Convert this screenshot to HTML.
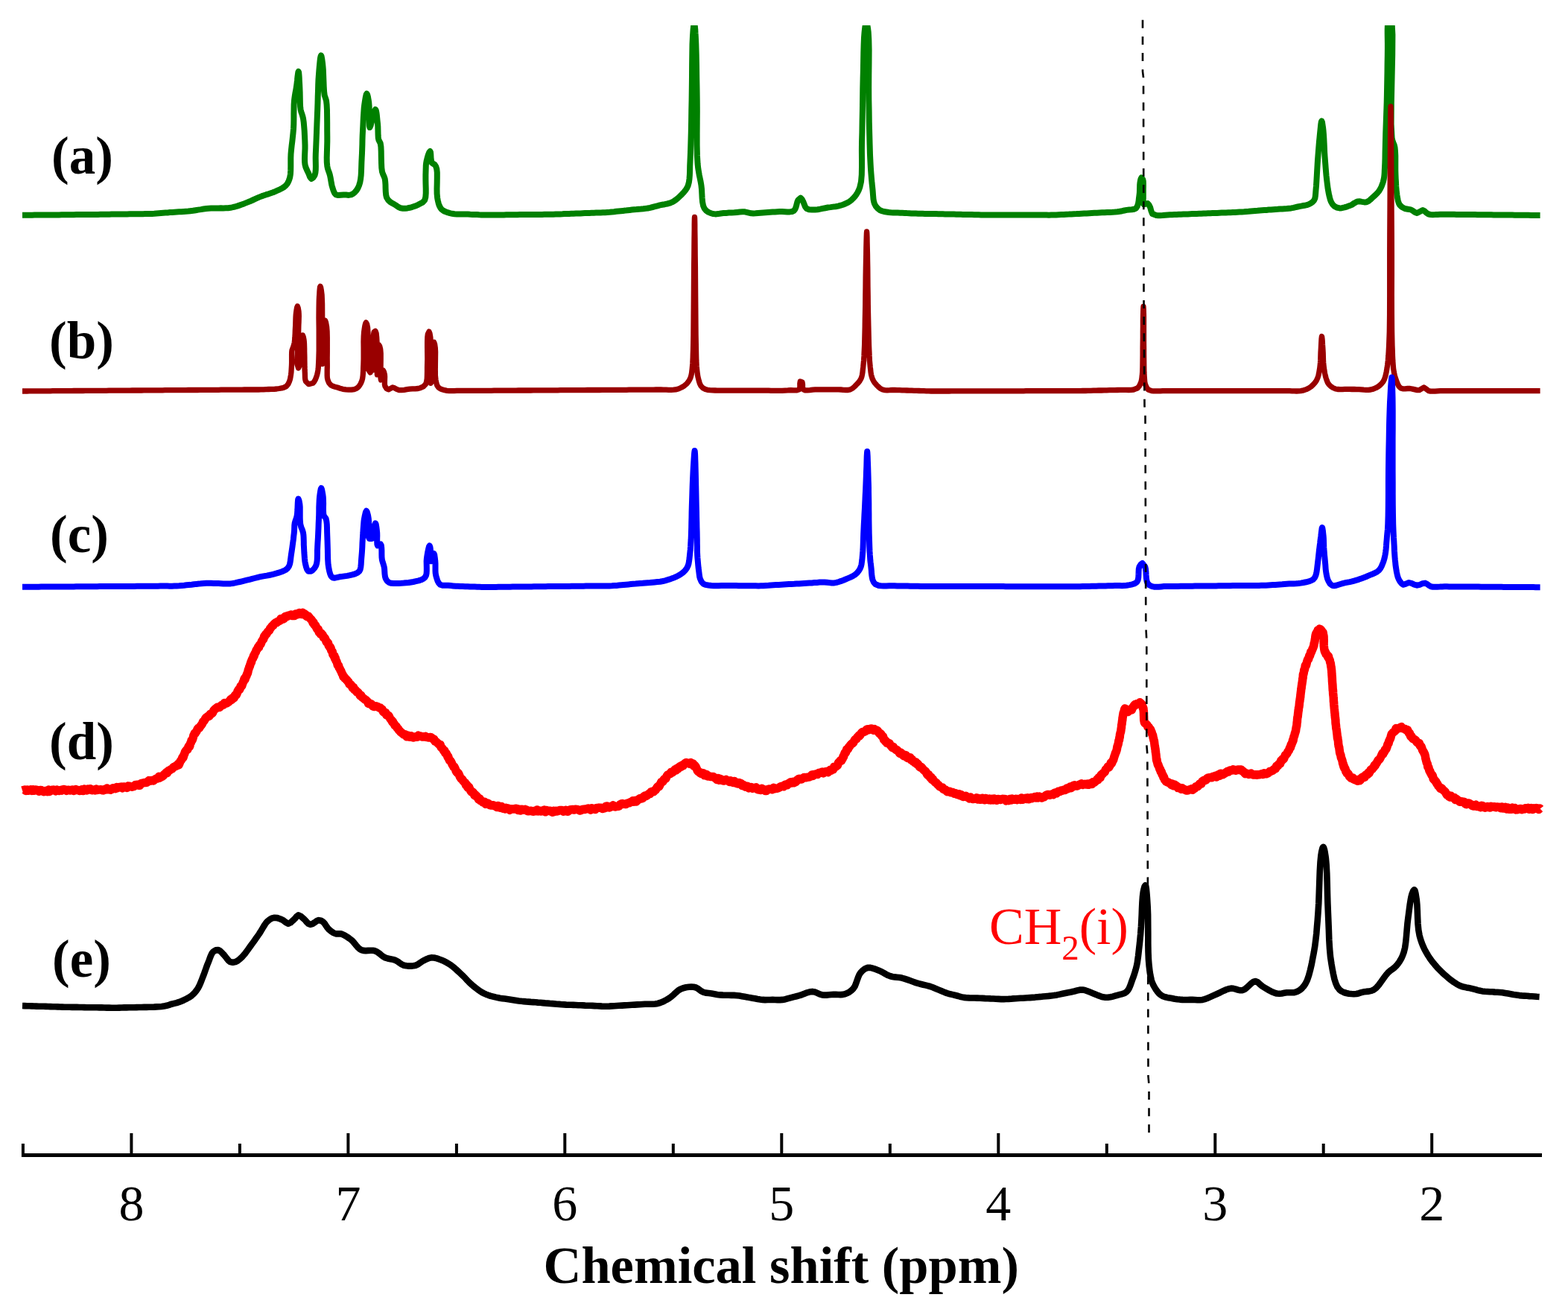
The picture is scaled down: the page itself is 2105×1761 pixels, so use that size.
<!DOCTYPE html>
<html><head><meta charset="utf-8"><title>NMR spectra</title>
<style>html,body{margin:0;padding:0;background:#fff;width:2105px;height:1761px;overflow:hidden}svg{display:block}</style>
</head><body>
<svg width="2105" height="1761" viewBox="0 0 2105 1761">
<defs><clipPath id="cp"><rect x="0" y="34" width="2105" height="1700"/></clipPath></defs>
<rect width="2105" height="1761" fill="#fff"/>
<polyline points="30.0,288.8 33.3,288.8 36.6,288.7 39.9,288.7 43.1,288.7 46.4,288.6 49.7,288.6 53.0,288.6 56.3,288.6 59.6,288.5 62.9,288.5 66.2,288.5 69.4,288.4 72.7,288.4 76.0,288.4 79.3,288.4 82.6,288.3 85.9,288.3 89.2,288.3 92.4,288.2 95.7,288.2 99.0,288.2 102.3,288.1 105.6,288.1 108.9,288.1 112.2,288.1 115.5,288.0 118.8,288.0 122.1,288.0 125.4,287.9 128.6,287.9 131.7,287.9 134.7,287.8 137.7,287.8 140.7,287.8 143.7,287.7 146.7,287.7 149.7,287.6 152.7,287.6 155.8,287.6 158.8,287.5 161.8,287.5 164.8,287.4 167.8,287.4 170.8,287.4 173.9,287.3 176.9,287.3 179.9,287.3 182.9,287.2 185.9,287.2 188.9,287.2 192.0,287.2 195.0,287.1 198.0,287.1 201.0,287.0 204.0,286.9 207.0,286.7 210.1,286.4 213.1,286.2 216.1,286.0 219.1,285.8 222.1,285.6 225.1,285.4 228.1,285.1 231.2,284.9 234.2,284.7 237.2,284.5 240.3,284.3 243.4,284.2 246.5,284.0 249.6,283.8 252.6,283.6 255.3,283.3 259.1,282.8 262.6,282.2 266.1,281.6 269.7,281.1 273.2,280.5 277.0,280.0 280.0,279.8 283.3,279.6 286.6,279.6 289.9,279.5 293.2,279.4 296.5,279.3 299.7,279.4 303.0,279.3 306.2,279.2 309.5,278.8 312.5,278.2 315.4,277.5 318.4,276.6 321.4,275.6 324.5,274.5 327.6,273.4 331.4,271.9 335.4,270.3 339.4,268.5 343.4,266.7 347.4,264.9 351.2,263.4 354.4,262.3 357.5,261.2 360.6,260.3 363.5,259.3 366.5,258.3 369.3,257.1 372.5,255.7 375.6,254.3 378.7,252.7 381.4,251.0 383.7,249.0 385.6,246.7 387.1,244.1 388.2,241.3 389.2,238.0 389.9,233.8 390.2,228.9 390.3,223.5 390.3,217.8 390.3,212.2 390.5,206.7 391.0,201.2 391.6,195.6 392.3,190.1 392.9,184.4 393.5,178.8 394.0,173.0 394.3,166.7 394.4,160.0 394.4,153.3 394.5,146.8 394.6,140.6 395.0,135.0 395.4,131.5 395.9,128.2 396.4,125.1 397.0,122.1 397.5,119.1 398.0,116.0 398.5,112.2 399.0,107.9 399.4,103.5 399.9,99.7 400.3,97.0 400.7,96.0 401.1,97.1 401.4,100.1 401.7,104.3 401.9,109.2 402.2,114.2 402.4,118.6 402.6,123.3 402.7,128.3 402.8,133.4 402.9,138.3 403.1,142.9 403.6,147.0 404.3,150.2 405.3,152.9 406.2,155.7 407.0,159.0 407.7,163.9 408.2,169.7 408.7,176.0 409.0,182.6 409.3,188.9 409.5,194.8 409.5,199.5 409.3,204.2 409.1,208.8 409.0,213.2 409.1,217.3 409.5,221.0 410.4,224.4 411.7,227.5 413.0,230.3 414.3,232.9 416.0,237.4 417.9,240.0 420.3,238.6 422.6,235.0 423.4,231.8 423.8,227.8 423.9,223.0 423.8,217.8 423.7,212.3 423.8,206.7 424.2,197.9 424.6,188.2 425.0,177.8 425.4,167.2 425.8,156.8 426.2,147.0 426.5,138.6 426.7,130.2 427.0,122.0 427.2,114.0 427.5,106.5 428.0,99.5 428.4,94.3 428.9,88.7 429.4,83.4 429.9,78.8 430.5,75.7 431.0,74.5 431.6,75.8 432.2,78.9 432.8,83.2 433.3,87.6 433.8,93.4 434.1,100.7 434.4,108.5 434.7,116.2 435.1,123.0 435.7,128.0 436.9,131.5 438.0,135.0 438.6,140.5 439.0,148.0 439.1,156.6 439.2,165.7 439.2,174.8 439.3,183.0 439.3,190.2 439.1,197.5 438.9,204.7 438.7,211.6 438.8,217.8 439.3,223.0 440.0,226.5 441.0,229.3 442.0,232.0 442.9,235.0 443.6,238.3 444.2,241.8 444.8,245.4 445.5,248.9 446.4,252.0 447.6,255.7 449.0,259.1 451.0,261.4 454.0,262.1 457.6,261.7 461.2,261.4 464.7,261.6 468.2,261.9 471.4,261.4 474.1,260.0 476.5,257.9 478.6,255.5 480.5,252.5 482.0,249.0 483.3,244.8 484.1,240.4 484.7,235.1 485.0,229.4 485.2,223.3 485.4,217.3 485.7,211.4 486.0,205.5 486.2,199.6 486.4,193.6 486.5,187.6 486.7,181.7 487.0,175.7 487.3,169.6 487.6,163.2 487.9,156.8 488.3,150.7 488.7,145.0 489.3,140.0 490.0,135.3 490.8,130.6 491.6,127.1 492.4,125.7 493.1,126.9 493.9,129.8 494.6,133.6 495.2,137.6 495.6,142.9 495.7,149.9 495.7,157.3 495.8,164.1 495.9,169.0 496.4,171.0 497.6,168.5 498.8,163.8 499.4,160.9 499.9,157.8 500.5,154.6 501.2,152.0 504.0,147.0 504.7,148.0 505.3,150.6 505.8,154.1 506.2,158.2 506.6,162.3 507.0,166.0 507.3,169.7 507.4,173.7 507.5,177.7 507.6,181.5 507.8,184.9 508.3,187.6 510.7,192.4 511.4,196.9 511.7,203.3 511.8,210.8 512.0,218.4 512.3,225.2 513.0,230.5 514.2,234.0 515.5,236.7 516.7,240.0 517.2,243.7 517.5,248.1 517.6,252.9 517.8,257.6 518.2,261.7 519.0,265.0 521.1,268.5 523.8,271.0 526.7,272.8 529.8,274.5 532.4,276.2 535.0,278.0 538.0,279.3 540.8,279.7 543.8,279.7 546.9,279.4 550.0,278.8 552.9,278.1 556.0,277.0 559.0,275.9 561.9,274.6 564.3,273.3 567.7,271.4 570.2,268.6 571.3,264.7 571.7,259.4 571.7,253.2 571.5,246.7 571.4,240.4 571.4,235.0 571.5,231.5 571.6,228.2 571.7,225.0 571.8,222.0 572.1,219.1 572.6,216.2 573.6,212.1 574.9,207.7 576.3,204.3 577.4,203.0 578.0,204.4 578.3,207.7 578.5,211.9 579.0,215.9 579.8,218.6 583.6,221.0 585.2,223.4 586.3,227.0 586.8,231.7 586.8,238.2 586.7,245.5 586.5,253.1 586.6,260.2 587.2,266.0 587.9,269.6 588.7,272.9 589.7,275.9 591.0,278.5 592.7,280.8 595.0,282.6 597.8,284.1 600.8,285.2 604.0,286.1 607.1,286.8 610.1,287.3 613.1,287.4 616.1,287.4 619.2,287.4 622.2,287.4 625.2,287.5 628.2,287.6 631.3,287.8 634.3,287.9 637.3,288.0 640.3,288.1 643.3,288.3 646.3,288.4 649.3,288.5 652.4,288.6 655.3,288.6 658.3,288.6 661.3,288.6 664.4,288.5 667.5,288.5 670.5,288.4 673.5,288.4 676.5,288.4 679.5,288.3 682.6,288.3 685.6,288.3 688.6,288.2 691.6,288.2 694.6,288.2 697.7,288.1 700.7,288.1 703.7,288.1 706.7,288.1 709.7,288.0 712.7,288.0 715.8,288.0 718.8,287.9 721.8,287.9 724.8,287.9 727.8,287.9 730.8,287.8 733.9,287.8 736.9,287.8 739.9,287.8 742.9,287.7 745.9,287.6 748.9,287.5 752.0,287.4 755.0,287.3 758.0,287.1 761.0,287.0 764.0,286.9 767.0,286.8 770.0,286.7 773.1,286.6 776.1,286.5 779.1,286.4 782.1,286.2 785.1,286.1 788.1,286.0 791.2,285.9 794.2,285.8 797.2,285.7 800.2,285.6 803.2,285.5 806.3,285.4 809.3,285.3 812.3,285.2 815.3,285.0 818.3,284.8 821.3,284.5 824.3,284.2 827.3,283.8 830.4,283.5 833.4,283.2 836.4,282.9 839.4,282.6 842.4,282.2 845.4,281.9 848.4,281.6 851.4,281.3 854.5,281.1 857.5,280.8 860.5,280.6 863.6,280.3 866.6,279.9 869.5,279.5 872.8,278.8 876.1,278.0 879.3,277.2 882.6,276.3 885.8,275.4 889.1,274.8 892.4,274.2 895.8,273.5 899.0,272.7 902.1,271.4 904.8,269.9 907.4,268.1 909.9,266.1 912.3,263.9 914.6,261.7 916.6,259.6 918.8,257.1 920.7,254.7 922.4,252.0 923.8,248.8 924.9,244.6 925.5,239.9 925.9,234.6 926.1,228.9 926.2,222.7 926.5,216.2 927.0,204.7 927.4,191.6 927.8,177.5 928.1,162.9 928.3,148.2 928.6,134.0 928.8,119.1 929.0,103.4 929.1,87.5 929.3,72.5 929.5,59.3 930.0,48.6 930.3,44.3 930.6,40.0 931.0,36.1 931.3,32.9 931.7,30.8 932.0,30.0 932.3,30.8 932.6,32.9 932.9,36.1 933.3,40.0 933.5,44.3 933.8,48.6 934.3,59.2 934.7,72.4 935.0,87.4 935.2,103.2 935.5,119.0 935.7,134.0 935.8,148.9 935.7,164.4 935.6,179.9 935.6,194.8 935.9,208.4 936.6,220.0 937.2,225.7 938.0,230.6 938.8,235.2 939.7,239.5 940.6,243.9 941.4,248.6 942.0,254.0 942.3,259.9 942.6,265.8 943.1,271.3 944.1,276.2 945.7,280.0 948.0,282.7 950.8,284.6 953.8,286.0 957.0,287.0 960.4,287.4 964.0,287.1 967.7,286.5 971.3,286.1 974.9,285.9 978.5,285.6 982.1,285.4 985.7,285.2 989.3,284.9 993.1,284.5 996.7,284.3 1000.0,284.3 1004.2,285.3 1008.6,286.3 1011.3,286.4 1014.4,286.3 1017.6,286.0 1021.0,285.7 1024.4,285.4 1027.6,285.2 1030.8,285.0 1034.0,284.8 1037.2,284.6 1040.3,284.4 1043.5,284.2 1046.7,284.0 1050.0,284.0 1053.5,284.2 1057.0,284.4 1060.3,284.4 1063.3,284.0 1065.7,282.9 1067.5,280.7 1068.7,277.5 1069.6,274.1 1070.4,270.9 1071.4,268.6 1074.9,265.7 1076.8,267.8 1078.6,271.4 1079.8,274.4 1081.0,277.6 1082.9,280.0 1086.1,281.2 1090.1,281.5 1094.3,281.4 1097.5,281.2 1100.9,280.6 1104.4,279.9 1108.0,279.2 1111.4,278.5 1114.9,278.1 1118.4,277.6 1121.9,277.2 1125.3,276.6 1128.6,275.7 1131.7,274.7 1134.7,273.5 1137.6,272.2 1140.3,270.6 1142.9,268.6 1145.2,266.4 1147.4,264.1 1149.4,261.4 1151.2,258.5 1152.9,255.1 1154.3,251.4 1156.0,243.8 1156.8,234.7 1157.0,224.5 1157.0,213.6 1156.9,202.5 1157.0,191.4 1157.4,177.8 1157.6,163.5 1157.9,148.7 1158.1,133.8 1158.3,119.4 1158.6,105.7 1158.9,94.1 1159.1,82.3 1159.3,70.7 1159.6,60.0 1160.0,50.5 1160.6,42.9 1161.1,38.4 1161.7,34.2 1162.3,31.2 1162.9,30.0 1163.6,31.1 1164.4,34.1 1165.1,38.2 1165.7,42.9 1166.3,53.3 1166.6,67.2 1166.5,83.4 1166.3,100.8 1166.2,118.0 1166.3,134.0 1166.6,148.9 1166.8,164.2 1167.2,179.5 1167.6,194.2 1168.0,207.8 1168.6,220.0 1169.0,227.0 1169.5,233.6 1170.0,239.8 1170.5,245.5 1171.1,250.9 1171.6,256.0 1171.9,260.0 1172.2,263.8 1172.5,267.3 1173.1,270.6 1174.0,273.5 1175.8,276.9 1178.2,279.7 1181.0,282.0 1183.7,283.2 1186.7,284.0 1189.9,284.5 1193.3,285.0 1196.1,285.3 1199.1,285.5 1202.1,285.6 1205.2,285.6 1208.3,285.7 1211.4,285.8 1214.4,285.9 1217.4,286.1 1220.4,286.2 1223.5,286.4 1226.5,286.5 1229.5,286.6 1232.5,286.7 1235.5,286.8 1238.5,286.8 1241.6,286.9 1244.6,286.9 1247.6,287.0 1250.6,287.0 1253.6,287.1 1256.7,287.1 1259.7,287.2 1262.7,287.3 1265.7,287.3 1268.7,287.4 1271.7,287.4 1274.8,287.5 1277.8,287.6 1280.8,287.6 1283.8,287.7 1286.8,287.7 1289.8,287.8 1292.8,287.9 1295.9,287.9 1298.9,288.0 1301.9,288.0 1304.9,288.1 1307.9,288.2 1310.9,288.2 1313.9,288.3 1317.0,288.4 1320.0,288.4 1323.1,288.4 1326.3,288.4 1329.4,288.4 1332.6,288.4 1335.7,288.4 1338.9,288.4 1342.0,288.4 1345.1,288.5 1348.3,288.5 1351.4,288.5 1354.6,288.5 1357.7,288.5 1360.9,288.5 1364.0,288.5 1367.2,288.5 1370.3,288.5 1373.4,288.5 1376.6,288.5 1379.7,288.5 1382.9,288.5 1386.0,288.5 1389.2,288.5 1392.3,288.6 1395.4,288.6 1398.6,288.6 1401.8,288.6 1404.9,288.6 1408.1,288.7 1411.2,288.6 1414.3,288.6 1417.8,288.5 1421.2,288.3 1424.6,288.1 1428.0,287.9 1431.4,287.7 1434.9,287.6 1438.3,287.4 1441.7,287.2 1445.2,287.1 1448.6,286.9 1452.0,286.7 1455.4,286.5 1458.9,286.4 1462.3,286.2 1465.7,286.0 1469.1,285.8 1472.6,285.7 1476.0,285.5 1479.4,285.3 1482.9,285.2 1486.3,285.0 1489.8,284.9 1493.3,284.8 1496.7,284.6 1500.0,284.3 1503.3,283.8 1506.4,283.2 1509.5,282.5 1512.6,281.9 1515.9,281.5 1519.4,281.3 1522.6,280.8 1525.2,279.4 1526.8,276.9 1527.9,273.6 1528.6,269.7 1529.0,265.7 1529.5,262.0 1529.9,258.5 1530.0,254.8 1530.1,251.2 1530.2,247.9 1530.5,245.0 1531.3,240.8 1532.3,238.5 1534.3,241.0 1534.8,243.3 1534.9,246.6 1534.9,250.5 1534.8,254.6 1534.8,258.6 1534.8,262.0 1534.8,265.8 1534.6,269.6 1534.7,272.7 1535.5,274.5 1540.6,273.0 1542.6,275.2 1544.2,278.5 1545.4,283.0 1547.0,287.0 1552.4,289.0 1554.8,289.2 1557.6,289.2 1560.8,289.0 1564.1,288.7 1567.4,288.5 1570.5,288.3 1573.5,288.2 1576.5,288.1 1579.6,288.0 1582.6,287.8 1585.6,287.7 1588.6,287.6 1591.6,287.5 1594.6,287.4 1597.7,287.2 1600.7,287.1 1603.7,287.0 1606.7,286.9 1609.7,286.8 1612.7,286.7 1615.8,286.5 1618.8,286.4 1621.8,286.3 1624.8,286.2 1627.8,286.1 1630.8,286.0 1633.8,285.9 1636.9,285.7 1639.9,285.6 1642.9,285.5 1645.9,285.4 1648.9,285.3 1652.0,285.2 1655.0,285.1 1658.0,285.0 1661.0,284.8 1664.0,284.6 1667.0,284.4 1670.0,284.2 1673.1,283.9 1676.1,283.7 1679.1,283.4 1682.1,283.2 1685.1,283.0 1688.1,282.8 1691.1,282.5 1694.1,282.3 1697.2,282.1 1700.2,281.9 1703.2,281.6 1706.2,281.4 1709.2,281.2 1712.2,281.0 1715.2,280.8 1718.3,280.5 1721.4,280.4 1724.5,280.2 1727.6,280.0 1730.5,279.7 1733.3,279.4 1736.4,278.9 1739.4,278.2 1742.2,277.5 1745.2,276.9 1748.2,276.3 1751.3,275.8 1754.3,275.2 1757.0,274.3 1759.8,272.8 1762.3,271.0 1764.3,268.6 1765.4,265.9 1765.9,262.7 1766.2,259.1 1766.5,255.0 1767.0,249.5 1767.4,243.0 1767.8,236.0 1768.2,228.7 1768.6,221.6 1769.0,215.0 1769.4,209.7 1769.8,204.5 1770.2,199.5 1770.6,194.5 1771.0,189.7 1771.5,185.0 1771.9,180.5 1772.4,175.6 1772.9,170.7 1773.3,166.6 1773.8,163.6 1774.3,162.5 1774.9,163.7 1775.4,166.8 1776.0,170.8 1776.5,175.0 1776.9,179.8 1777.3,185.5 1777.6,191.6 1777.9,197.9 1778.1,204.1 1778.5,210.0 1778.9,215.2 1779.3,220.4 1779.7,225.6 1780.1,230.6 1780.5,235.4 1781.0,240.0 1781.4,243.4 1781.8,246.7 1782.2,249.8 1782.6,252.9 1783.1,255.8 1783.6,258.6 1784.3,262.0 1785.1,265.3 1785.9,268.3 1787.0,271.0 1788.9,274.2 1791.3,276.7 1794.5,278.5 1798.5,279.4 1801.4,279.2 1804.9,278.4 1808.5,277.3 1811.9,276.1 1814.8,274.9 1818.4,272.4 1822.0,270.4 1825.0,270.3 1828.4,270.9 1831.7,271.4 1834.7,271.2 1837.3,269.9 1839.6,268.0 1841.9,265.8 1844.2,263.8 1846.7,261.5 1849.0,259.2 1851.0,256.8 1852.8,253.9 1854.3,251.0 1855.5,248.0 1856.8,244.2 1857.8,240.0 1858.2,237.4 1858.5,234.7 1858.7,231.8 1858.8,228.6 1859.0,225.0 1859.3,218.9 1859.5,211.9 1859.6,204.2 1859.8,196.1 1860.0,188.0 1860.2,180.0 1860.5,171.6 1860.8,163.1 1861.1,154.5 1861.4,145.8 1861.7,137.0 1861.9,128.0 1862.1,117.6 1862.3,106.8 1862.5,95.7 1862.6,84.9 1862.8,74.5 1862.9,65.0 1862.9,58.3 1862.8,51.7 1862.7,45.3 1862.7,39.4 1862.9,34.3 1863.3,30.0 1864.4,24.6 1865.7,22.0 1867.1,24.3 1868.5,30.0 1869.4,46.5 1869.2,73.5 1868.5,106.0 1867.8,138.8 1867.6,166.8 1868.6,185.0 1869.5,189.1 1870.6,192.0 1871.7,194.6 1872.5,198.0 1873.0,203.1 1873.3,209.1 1873.3,215.7 1873.3,222.4 1873.3,228.9 1873.5,235.0 1873.7,239.9 1874.0,244.7 1874.2,249.4 1874.5,253.9 1875.0,258.1 1875.5,262.0 1876.1,265.8 1876.8,269.3 1877.7,272.4 1879.0,275.0 1882.2,278.0 1886.0,280.0 1889.9,280.7 1894.0,281.4 1896.8,283.0 1899.6,285.0 1902.3,286.0 1906.2,284.0 1910.0,282.0 1912.5,283.3 1914.9,285.6 1917.9,287.5 1920.5,288.0 1923.5,288.2 1926.7,288.1 1930.0,287.9 1933.4,287.8 1936.6,287.7 1939.7,287.7 1942.9,287.8 1946.0,287.8 1949.1,287.8 1952.2,287.8 1955.3,287.9 1958.4,287.9 1961.6,287.9 1964.7,288.0 1967.8,288.0 1970.9,288.0 1974.0,288.1 1977.2,288.1 1980.3,288.1 1983.4,288.2 1986.5,288.2 1989.6,288.2 1992.8,288.2 1995.9,288.3 1999.0,288.3 2002.1,288.3 2005.2,288.4 2008.3,288.4 2011.5,288.4 2014.6,288.5 2017.7,288.5 2020.8,288.5 2023.9,288.6 2027.1,288.6 2030.2,288.6 2033.3,288.7 2036.4,288.7 2039.5,288.7 2042.6,288.8 2045.8,288.8 2048.9,288.8 2052.0,288.8 2055.1,288.9 2058.2,288.9 2061.4,288.9 2064.5,289.0 2067.6,289.0" fill="none" stroke="#008000" stroke-width="8" stroke-linejoin="round" stroke-linecap="butt" clip-path="url(#cp)"/>
<polyline points="30.0,525.0 33.1,525.0 36.3,525.0 39.4,524.9 42.5,524.9 45.7,524.9 48.8,524.9 52.0,524.9 55.1,524.8 58.2,524.8 61.4,524.8 64.5,524.8 67.6,524.8 70.8,524.7 73.9,524.7 77.1,524.7 80.2,524.7 83.3,524.6 86.5,524.6 89.6,524.6 92.7,524.6 95.9,524.6 99.0,524.5 102.2,524.5 105.3,524.5 108.4,524.5 111.6,524.5 114.7,524.4 117.8,524.4 121.0,524.4 124.1,524.4 127.3,524.4 130.4,524.3 133.5,524.3 136.7,524.3 139.8,524.3 142.9,524.3 146.1,524.2 149.2,524.2 152.4,524.2 155.5,524.2 158.6,524.2 161.8,524.1 164.9,524.1 168.0,524.1 171.2,524.1 174.3,524.1 177.5,524.0 180.6,524.0 183.7,524.0 186.9,524.0 190.0,524.0 193.1,523.9 196.3,523.9 199.4,523.9 202.5,523.9 205.7,523.8 208.8,523.8 212.0,523.8 215.1,523.8 218.2,523.8 221.4,523.7 224.5,523.7 227.6,523.7 230.8,523.7 233.9,523.7 237.1,523.6 240.2,523.6 243.3,523.6 246.5,523.6 249.6,523.6 252.7,523.5 255.9,523.5 259.0,523.5 262.2,523.5 265.3,523.5 268.4,523.4 271.6,523.4 274.7,523.4 277.8,523.4 281.0,523.4 284.1,523.3 287.3,523.3 290.4,523.3 293.5,523.3 296.7,523.2 299.8,523.2 302.9,523.2 306.1,523.2 309.2,523.2 312.4,523.1 315.5,523.1 318.6,523.1 321.8,523.1 324.9,523.1 328.0,523.0 331.2,523.0 334.4,523.0 337.6,523.0 340.9,523.0 344.1,523.0 347.2,523.0 350.0,522.9 353.8,522.8 357.2,522.6 360.7,522.5 364.2,522.4 367.8,522.3 371.4,522.0 374.8,521.5 378.3,520.9 381.6,519.9 384.3,518.6 386.8,515.6 388.5,512.0 389.4,509.2 390.0,506.2 390.5,503.0 390.9,500.0 391.1,496.8 391.3,493.5 391.5,490.0 391.6,486.7 391.6,483.1 391.6,479.3 391.6,475.7 391.7,472.5 392.0,470.0 393.5,466.0 394.4,463.3 395.2,460.0 395.5,457.4 395.8,454.2 396.0,450.7 396.2,447.1 396.3,443.5 396.5,440.0 396.7,436.6 396.8,433.0 396.9,429.5 397.0,426.1 397.2,422.9 397.5,420.0 398.0,416.1 398.7,412.5 399.3,411.0 400.2,413.4 401.0,418.0 401.2,420.9 401.3,424.3 401.2,428.0 401.1,432.0 400.9,436.0 400.8,440.0 400.7,444.8 400.5,449.9 400.2,455.1 400.0,460.3 399.8,465.3 399.6,470.0 399.4,473.6 399.2,477.1 399.0,480.5 398.9,483.7 398.8,486.6 399.0,489.0 400.5,494.0 402.5,490.0 403.1,487.0 403.4,483.0 403.7,478.5 403.9,473.7 404.2,469.0 404.5,465.0 404.8,461.3 405.2,457.3 405.6,453.7 406.0,451.0 406.4,450.0 407.2,452.0 408.0,456.0 408.3,458.5 408.5,461.4 408.6,464.7 408.7,468.1 408.7,471.6 408.8,475.0 408.9,479.1 408.9,483.4 409.0,487.9 409.0,492.2 409.1,496.3 409.3,500.0 409.4,503.5 409.5,506.8 409.8,509.6 410.5,512.0 414.3,515.7 420.0,514.3 421.7,512.3 423.3,509.6 424.6,506.3 425.7,502.9 426.4,499.9 426.9,496.8 427.3,493.5 427.5,489.8 427.7,485.9 427.9,481.4 428.2,470.5 428.2,456.9 428.2,441.8 428.0,426.9 428.1,413.4 428.3,402.9 428.5,398.6 428.8,394.4 429.0,390.5 429.3,387.3 429.6,385.1 430.0,384.3 430.7,386.0 431.4,390.2 432.1,395.7 432.6,408.1 432.7,426.9 432.6,448.1 432.4,468.0 432.5,482.8 432.9,488.6 433.4,487.2 433.9,483.8 434.5,479.1 435.0,474.3 435.3,467.3 435.5,458.1 435.6,448.2 435.7,439.2 435.9,432.6 436.4,430.0 437.5,432.7 438.6,438.6 439.1,444.8 439.3,453.0 439.3,462.3 439.3,471.9 439.2,481.0 439.3,488.6 439.3,492.8 439.2,496.9 439.2,500.6 439.2,504.1 439.4,507.3 440.0,510.0 441.7,514.1 444.3,517.0 446.8,518.3 449.8,519.2 452.9,520.0 456.5,521.2 460.3,522.3 464.3,522.9 467.9,523.1 471.8,523.1 475.5,522.6 478.6,521.4 480.9,519.6 482.8,517.3 484.4,514.5 485.7,511.4 486.6,508.3 487.1,504.8 487.4,501.1 487.6,497.1 487.7,492.9 487.9,488.6 488.1,481.9 488.1,474.4 488.1,466.4 488.0,458.6 488.2,451.5 488.6,445.7 489.2,441.4 489.9,437.2 490.7,434.1 491.4,432.9 492.6,435.1 493.6,440.0 494.0,446.9 493.9,457.0 493.6,468.5 493.4,479.9 493.5,489.5 494.3,495.7 497.1,500.0 497.8,497.4 498.2,491.2 498.4,483.3 498.4,475.4 498.4,469.4 498.6,467.0 498.8,469.2 499.1,474.8 499.3,482.0 499.5,489.2 499.8,494.8 500.0,497.0 500.2,493.5 500.3,484.8 500.3,473.2 500.6,461.1 501.1,451.2 502.1,445.7 504.0,444.3 505.1,447.2 505.7,452.9 506.1,460.0 506.2,470.2 506.2,481.6 506.2,492.1 506.2,499.9 506.4,502.9 506.6,500.0 506.9,492.6 507.1,483.0 507.5,473.4 508.0,465.9 508.6,462.9 509.7,464.7 510.7,468.6 511.2,474.2 511.2,482.6 511.1,492.0 511.0,500.9 511.0,507.4 511.4,510.0 512.0,508.0 512.7,503.5 513.5,499.1 514.3,497.0 515.4,499.0 516.4,502.9 516.6,505.7 516.5,509.1 516.4,512.7 516.4,516.0 517.0,518.6 518.9,521.5 521.4,522.9 524.0,521.6 527.0,520.0 529.7,520.8 532.5,522.4 535.7,523.6 539.0,523.7 542.6,523.3 546.3,522.7 550.0,522.2 553.7,521.9 557.5,521.8 561.1,521.5 564.3,520.7 568.3,518.9 571.4,515.7 572.5,512.6 573.2,508.6 573.4,503.9 573.5,498.9 573.5,493.7 573.6,488.6 573.8,481.9 573.7,474.2 573.6,466.4 573.6,459.0 573.8,452.8 574.3,448.6 576.0,445.0 577.0,447.5 577.9,452.9 578.2,461.1 578.1,473.5 577.8,487.4 577.5,500.5 577.6,510.3 578.3,514.3 580.7,510.0 581.3,504.0 581.2,494.5 580.8,483.6 580.4,472.9 580.4,464.5 581.1,460.0 582.6,459.3 583.6,462.0 584.3,467.0 584.6,472.5 584.5,479.9 584.4,488.2 584.3,496.6 584.4,504.2 585.0,510.0 585.8,514.1 586.8,517.4 588.6,520.0 590.8,521.6 593.6,522.8 596.8,523.7 600.0,524.3 603.1,524.6 606.4,524.7 609.8,524.6 613.3,524.4 616.7,524.3 620.0,524.3 623.3,524.3 626.7,524.3 630.0,524.3 633.3,524.3 636.6,524.3 639.9,524.3 643.2,524.3 646.6,524.3 650.0,524.3 653.2,524.3 656.5,524.3 659.8,524.3 663.1,524.2 666.5,524.2 669.8,524.2 673.1,524.2 676.4,524.2 679.7,524.1 682.9,524.1 686.2,524.1 689.5,524.1 692.8,524.1 696.1,524.0 699.4,524.0 702.7,524.0 706.0,524.0 709.3,524.0 712.6,524.0 715.9,523.9 719.2,523.9 722.5,523.9 725.8,523.9 729.1,523.9 732.4,523.9 735.7,523.8 739.0,523.8 742.3,523.8 745.6,523.8 748.8,523.8 752.1,523.7 755.4,523.7 758.7,523.7 762.0,523.7 765.3,523.7 768.6,523.7 771.9,523.6 775.2,523.6 778.5,523.6 781.8,523.6 785.1,523.6 788.4,523.5 791.7,523.5 795.0,523.5 798.3,523.5 801.6,523.5 804.9,523.5 808.2,523.4 811.4,523.4 814.7,523.4 818.0,523.4 821.3,523.4 824.6,523.3 827.9,523.3 831.2,523.3 834.5,523.3 837.8,523.3 841.1,523.3 844.4,523.2 847.7,523.2 851.0,523.2 854.3,523.2 857.6,523.2 860.9,523.2 864.2,523.1 867.5,523.1 870.8,523.1 874.1,523.1 877.3,523.1 880.6,523.0 883.9,523.0 887.2,523.0 890.6,523.1 894.2,523.2 897.7,523.3 901.1,523.3 904.2,523.2 907.0,522.9 911.3,521.7 915.0,520.0 918.7,517.8 922.0,515.0 923.9,512.6 925.6,509.9 927.0,507.0 927.8,504.3 928.4,501.5 928.8,498.4 929.2,495.0 929.5,491.5 929.8,487.8 930.0,483.9 930.2,479.6 930.3,475.0 930.5,470.0 930.7,460.4 930.9,449.5 931.0,437.5 931.1,425.0 931.2,412.3 931.3,400.0 931.4,386.5 931.5,372.2 931.6,357.8 931.8,343.9 931.9,331.1 932.0,320.0 932.1,313.8 932.2,307.3 932.2,301.3 932.3,296.2 932.4,292.8 932.5,291.5 932.6,292.8 932.7,296.2 932.8,301.3 932.8,307.3 932.9,313.8 933.0,320.0 933.1,331.1 933.2,343.9 933.4,357.8 933.5,372.2 933.6,386.5 933.7,400.0 933.8,412.3 933.9,425.0 934.0,437.5 934.1,449.5 934.3,460.4 934.5,470.0 934.6,475.0 934.7,479.6 934.8,483.8 935.0,487.7 935.2,491.5 935.5,495.0 935.9,498.6 936.3,501.9 936.8,505.0 937.5,508.0 938.4,511.6 939.5,515.1 941.0,518.0 943.6,520.7 947.0,522.5 949.8,523.3 953.0,523.6 956.5,523.8 960.0,524.0 962.8,524.1 965.8,524.2 968.8,524.1 971.9,524.1 975.0,524.1 978.0,524.1 981.0,524.1 984.0,524.1 987.0,524.1 990.0,524.1 993.0,524.1 996.0,524.1 999.0,524.1 1002.0,524.1 1005.0,524.1 1008.0,524.2 1011.0,524.2 1014.0,524.2 1017.0,524.2 1020.0,524.2 1023.0,524.2 1026.0,524.2 1029.0,524.2 1032.0,524.2 1035.0,524.3 1038.2,524.3 1041.3,524.3 1044.3,524.4 1047.2,524.4 1050.0,524.3 1054.0,524.1 1057.7,523.9 1061.5,523.6 1065.6,523.8 1069.8,523.9 1072.9,522.9 1073.9,519.4 1073.8,514.8 1074.3,512.0 1077.0,512.9 1077.5,515.8 1077.5,519.8 1078.6,522.9 1080.8,523.8 1083.8,523.9 1087.3,523.6 1090.9,523.1 1094.3,522.9 1097.4,522.9 1100.6,522.9 1103.7,522.9 1106.9,522.9 1110.0,522.9 1113.1,522.9 1116.3,522.9 1119.4,522.9 1122.6,522.9 1125.7,522.9 1128.9,523.0 1132.3,523.3 1135.5,523.5 1138.6,523.5 1141.4,522.9 1144.7,521.1 1147.5,518.6 1150.0,516.0 1152.3,513.6 1154.3,511.1 1156.0,508.0 1156.9,505.5 1157.5,502.7 1158.0,499.6 1158.3,496.4 1158.7,493.2 1159.0,490.0 1159.3,486.8 1159.6,483.8 1159.8,480.6 1160.0,477.4 1160.1,473.9 1160.3,470.0 1160.6,463.1 1160.8,455.3 1161.0,446.9 1161.2,438.1 1161.3,429.1 1161.5,420.0 1161.7,408.8 1161.8,396.8 1162.0,384.5 1162.1,372.3 1162.3,360.6 1162.5,350.0 1162.7,341.9 1162.8,333.3 1163.0,324.9 1163.2,317.8 1163.4,312.9 1163.6,311.0 1163.8,312.9 1164.0,317.8 1164.1,324.9 1164.3,333.3 1164.5,341.9 1164.6,350.0 1164.8,360.6 1164.9,372.3 1165.0,384.5 1165.2,396.8 1165.3,408.8 1165.5,420.0 1165.7,429.1 1165.9,438.1 1166.1,446.9 1166.3,455.3 1166.5,463.1 1166.8,470.0 1167.0,473.9 1167.1,477.4 1167.3,480.6 1167.4,483.8 1167.7,486.8 1168.0,490.0 1168.3,493.1 1168.7,496.3 1169.0,499.5 1169.5,502.6 1170.2,505.4 1171.0,508.0 1172.7,511.4 1174.7,514.4 1177.0,517.0 1179.4,519.4 1181.9,521.5 1185.0,523.0 1187.8,523.6 1191.0,523.8 1194.4,523.7 1197.9,523.5 1201.2,523.5 1204.5,523.6 1207.8,523.7 1211.0,523.8 1214.2,523.9 1217.5,524.0 1220.8,524.1 1224.0,524.2 1227.2,524.3 1230.5,524.4 1233.8,524.5 1237.0,524.6 1240.2,524.7 1243.4,524.8 1246.7,524.9 1250.0,525.0 1253.0,525.0 1256.0,525.0 1259.0,525.0 1262.1,525.0 1265.1,525.0 1268.2,525.0 1271.2,525.0 1274.2,525.0 1277.3,524.9 1280.3,524.9 1283.3,524.9 1286.4,524.9 1289.4,524.9 1292.4,524.9 1295.5,524.9 1298.5,524.9 1301.5,524.9 1304.5,524.9 1307.6,524.9 1310.6,524.9 1313.6,524.9 1316.7,524.9 1319.7,524.9 1322.7,524.9 1325.8,524.8 1328.8,524.8 1331.8,524.8 1334.8,524.8 1337.9,524.8 1340.9,524.8 1343.9,524.8 1347.0,524.8 1350.0,524.8 1353.0,524.8 1356.1,524.8 1359.1,524.8 1362.1,524.8 1365.2,524.8 1368.2,524.8 1371.2,524.8 1374.2,524.8 1377.3,524.7 1380.3,524.7 1383.3,524.7 1386.4,524.7 1389.4,524.7 1392.4,524.7 1395.5,524.7 1398.5,524.7 1401.5,524.7 1404.5,524.7 1407.6,524.7 1410.6,524.7 1413.6,524.7 1416.7,524.7 1419.7,524.7 1422.7,524.7 1425.8,524.6 1428.8,524.6 1431.8,524.6 1434.9,524.6 1437.9,524.6 1440.9,524.6 1443.9,524.6 1447.0,524.6 1450.0,524.6 1453.6,524.5 1457.2,524.5 1460.8,524.4 1464.3,524.3 1467.9,524.2 1471.5,524.1 1475.1,524.0 1478.7,524.0 1482.3,523.9 1485.8,523.8 1489.4,523.7 1493.0,523.6 1496.6,523.6 1500.2,523.5 1503.8,523.4 1507.5,523.4 1511.5,523.4 1515.3,523.5 1518.8,523.3 1521.7,523.0 1527.0,521.0 1529.3,518.4 1531.0,515.0 1532.0,512.2 1532.7,509.0 1533.2,505.0 1533.7,499.4 1533.9,492.3 1534.0,484.4 1534.1,476.0 1534.1,467.7 1534.2,460.0 1534.3,452.9 1534.3,445.4 1534.4,438.0 1534.4,431.1 1534.5,424.9 1534.6,420.0 1534.8,414.3 1535.0,411.5 1535.2,414.3 1535.4,420.0 1535.5,424.9 1535.5,431.1 1535.5,438.0 1535.5,445.4 1535.5,452.9 1535.5,460.0 1535.6,467.7 1535.6,475.9 1535.7,484.2 1535.8,492.2 1535.9,499.2 1536.2,505.0 1536.5,509.3 1536.8,512.8 1537.5,516.0 1539.2,520.0 1541.5,523.0 1546.0,524.6 1548.3,524.8 1551.1,524.9 1554.3,524.9 1557.7,524.8 1561.0,524.6 1564.2,524.6 1567.2,524.6 1570.3,524.6 1573.3,524.6 1576.3,524.6 1579.4,524.6 1582.4,524.6 1585.5,524.6 1588.5,524.6 1591.5,524.6 1594.6,524.6 1597.6,524.6 1600.6,524.6 1603.7,524.6 1606.7,524.6 1609.7,524.6 1612.8,524.6 1615.8,524.6 1618.8,524.6 1621.9,524.6 1624.9,524.6 1627.9,524.6 1631.0,524.6 1634.0,524.6 1637.0,524.6 1640.1,524.6 1643.1,524.6 1646.2,524.6 1649.2,524.6 1652.2,524.6 1655.3,524.6 1658.3,524.6 1661.3,524.6 1664.4,524.6 1667.4,524.6 1670.4,524.6 1673.5,524.6 1676.5,524.6 1679.5,524.6 1682.6,524.6 1685.6,524.6 1688.6,524.6 1691.7,524.6 1694.7,524.6 1697.7,524.6 1700.8,524.6 1703.8,524.6 1706.8,524.6 1709.9,524.6 1712.9,524.6 1716.0,524.6 1719.0,524.6 1722.0,524.6 1725.1,524.6 1728.1,524.6 1731.2,524.7 1734.4,524.8 1737.5,524.9 1740.6,525.0 1743.6,524.9 1746.3,524.6 1750.2,523.8 1753.7,522.6 1757.0,521.0 1760.0,519.0 1762.7,516.5 1765.0,514.0 1767.3,510.8 1769.0,507.0 1769.9,504.1 1770.6,500.9 1771.2,497.3 1771.8,493.6 1772.2,490.0 1772.5,486.8 1772.7,483.4 1772.8,480.1 1772.9,476.7 1773.0,473.3 1773.2,470.0 1773.4,466.4 1773.6,462.4 1773.8,458.4 1774.0,454.9 1774.3,452.4 1774.5,451.5 1774.7,452.4 1775.0,454.9 1775.3,458.4 1775.5,462.4 1775.8,466.4 1776.0,470.0 1776.2,473.3 1776.3,476.7 1776.4,480.1 1776.5,483.4 1776.7,486.8 1777.0,490.0 1777.4,493.6 1777.9,497.2 1778.5,500.7 1779.2,504.0 1780.0,507.0 1781.1,510.4 1782.3,513.4 1784.0,516.0 1786.5,518.5 1789.5,520.5 1793.0,522.0 1795.8,522.5 1798.9,522.7 1802.1,522.6 1805.4,522.4 1808.7,522.3 1811.8,522.4 1814.9,522.5 1818.1,522.5 1821.2,522.6 1824.3,522.7 1827.5,522.8 1830.8,523.1 1834.0,523.3 1837.1,523.3 1840.0,523.0 1843.6,522.1 1847.0,520.7 1850.0,519.0 1852.6,517.0 1855.0,514.7 1857.0,512.0 1858.4,509.3 1859.5,506.2 1860.4,502.8 1861.2,499.0 1862.0,494.5 1862.7,489.5 1863.3,484.1 1863.8,478.1 1864.2,471.5 1864.6,464.0 1865.3,445.2 1865.6,422.1 1865.7,396.2 1865.7,368.6 1865.7,340.8 1865.8,314.0 1866.0,282.2 1866.2,245.2 1866.4,207.8 1866.6,175.1 1866.8,151.8 1867.0,143.0 1867.2,151.8 1867.4,175.1 1867.7,207.8 1867.9,245.2 1868.1,282.2 1868.3,314.0 1868.4,340.8 1868.4,368.6 1868.3,396.2 1868.4,422.1 1868.6,445.2 1869.0,464.0 1869.3,471.5 1869.5,478.1 1869.8,484.1 1870.2,489.5 1870.6,494.5 1871.3,499.0 1872.0,502.8 1872.9,506.1 1873.9,509.1 1875.0,512.0 1876.4,515.5 1878.1,518.7 1880.4,521.0 1883.1,521.8 1886.3,521.8 1889.7,521.5 1893.0,521.5 1896.2,522.1 1899.5,522.9 1902.6,523.6 1905.4,523.6 1908.7,521.6 1911.6,520.0 1914.5,522.0 1917.9,524.6 1920.4,525.1 1923.3,525.2 1926.6,525.1 1930.0,524.9 1933.4,524.7 1936.6,524.6 1939.7,524.6 1942.9,524.6 1946.0,524.6 1949.1,524.6 1952.2,524.6 1955.3,524.6 1958.4,524.6 1961.6,524.6 1964.7,524.6 1967.8,524.6 1970.9,524.6 1974.0,524.6 1977.2,524.6 1980.3,524.6 1983.4,524.6 1986.5,524.6 1989.6,524.6 1992.8,524.6 1995.9,524.6 1999.0,524.6 2002.1,524.6 2005.2,524.6 2008.3,524.6 2011.5,524.6 2014.6,524.6 2017.7,524.6 2020.8,524.6 2023.9,524.6 2027.1,524.6 2030.2,524.6 2033.3,524.6 2036.4,524.6 2039.5,524.6 2042.6,524.6 2045.8,524.6 2048.9,524.6 2052.0,524.6 2055.1,524.6 2058.2,524.6 2061.4,524.6 2064.5,524.6 2067.6,524.6" fill="none" stroke="#990000" stroke-width="7.3" stroke-linejoin="round" stroke-linecap="butt"/>
<polyline points="30.0,787.8 33.1,787.8 36.3,787.8 39.4,787.7 42.6,787.7 45.7,787.7 48.8,787.7 52.0,787.7 55.1,787.6 58.3,787.6 61.4,787.6 64.5,787.6 67.7,787.6 70.8,787.5 74.0,787.5 77.1,787.5 80.2,787.5 83.4,787.5 86.5,787.4 89.6,787.4 92.8,787.4 95.9,787.4 99.1,787.4 102.2,787.3 105.3,787.3 108.5,787.3 111.6,787.3 114.8,787.3 117.9,787.2 121.0,787.2 124.2,787.2 127.3,787.2 130.5,787.2 133.6,787.1 136.7,787.1 139.9,787.1 143.0,787.1 146.2,787.1 149.3,787.1 152.4,787.0 155.6,787.0 158.7,787.0 161.9,787.0 165.0,787.0 168.1,786.9 171.3,786.9 174.4,786.9 177.6,786.9 180.7,786.9 183.8,786.8 187.0,786.8 190.1,786.8 193.2,786.8 196.4,786.8 199.5,786.7 202.7,786.7 205.8,786.7 208.9,786.7 212.1,786.7 215.2,786.6 218.4,786.6 221.5,786.6 224.6,786.6 227.8,786.7 230.9,786.7 234.0,786.6 237.2,786.5 240.5,786.3 243.8,786.0 247.1,785.7 250.4,785.3 253.8,785.0 257.1,784.7 260.4,784.3 263.8,783.9 267.2,783.6 270.5,783.2 273.8,783.0 277.0,782.8 280.4,782.7 283.6,782.8 286.8,782.9 290.0,783.0 293.2,783.1 296.5,783.2 299.7,783.4 303.0,783.5 306.2,783.6 309.5,783.4 312.5,783.0 315.6,782.4 318.8,781.7 321.9,781.0 324.8,780.3 327.6,779.6 331.4,778.7 335.0,777.8 338.5,776.9 342.0,776.0 345.6,775.1 349.4,774.2 352.2,773.6 355.1,773.1 358.2,772.6 361.3,772.0 364.4,771.3 367.4,770.6 370.8,769.7 374.4,768.6 377.8,767.5 380.8,766.3 383.3,765.0 386.1,762.8 388.0,760.0 388.9,757.5 389.6,754.5 390.1,751.1 390.5,747.5 391.0,743.8 391.7,739.4 392.4,734.5 393.1,729.3 393.8,724.2 394.3,719.4 394.8,715.2 395.1,711.5 395.2,708.1 395.3,705.0 395.7,702.0 396.6,698.8 397.7,695.9 398.6,692.4 399.1,688.6 399.4,683.8 399.6,678.7 399.8,674.1 400.1,670.8 400.5,669.5 401.5,672.0 402.4,677.0 402.7,680.6 402.7,685.1 402.7,690.1 402.7,695.1 402.9,699.8 403.3,703.8 404.4,707.9 405.9,711.3 407.0,715.2 407.4,718.1 407.6,721.1 407.7,724.3 407.8,727.6 407.8,731.0 408.0,734.3 408.2,738.1 408.4,742.1 408.7,746.2 409.0,750.1 409.4,753.8 410.0,757.0 411.0,761.0 412.2,764.5 413.8,766.7 417.6,766.7 419.9,765.1 422.4,762.4 424.3,759.0 425.2,755.8 425.7,752.1 425.9,748.0 426.0,743.5 426.0,738.9 426.2,734.3 426.5,728.4 426.9,722.0 427.2,715.4 427.5,708.8 427.7,702.3 428.0,696.2 428.2,691.1 428.3,685.9 428.3,680.9 428.5,676.1 428.7,671.6 429.0,667.6 429.5,663.6 430.1,659.5 430.7,656.4 431.3,655.2 431.9,656.5 432.6,659.6 433.3,663.6 433.8,667.6 434.0,671.5 434.1,676.1 434.0,680.9 434.0,685.5 434.2,689.5 434.8,692.4 437.6,696.2 438.3,699.3 438.8,703.6 439.0,708.5 439.1,713.9 439.3,719.5 439.5,724.8 439.7,731.1 439.9,737.9 440.0,744.9 440.2,751.6 440.6,757.7 441.4,762.9 442.2,766.8 443.2,770.4 444.5,773.3 446.2,775.2 448.9,775.7 452.1,775.1 455.7,774.3 458.9,773.9 462.5,773.4 466.2,772.9 469.7,772.2 472.9,771.4 476.6,770.3 479.8,768.9 482.4,766.7 483.7,764.1 484.3,761.0 484.7,757.3 484.9,753.5 485.2,749.5 485.6,744.9 486.0,739.8 486.3,734.5 486.5,729.2 486.8,723.9 487.1,719.0 487.4,714.9 487.6,710.8 487.9,706.8 488.2,703.0 488.5,699.4 489.0,696.2 489.9,691.6 490.9,687.5 491.9,685.7 492.9,687.5 494.0,691.5 494.8,696.2 495.1,700.4 494.9,705.6 494.7,711.2 494.6,716.4 494.8,720.5 495.7,722.9 499.5,722.9 500.3,721.0 500.7,717.9 500.8,714.1 501.0,710.5 501.4,707.6 504.0,702.3 504.7,703.7 505.3,707.1 505.8,711.3 506.2,715.2 506.3,718.9 506.2,723.2 506.2,727.4 506.4,730.7 507.1,732.4 511.0,730.5 511.8,732.1 512.2,735.2 512.4,739.3 512.4,743.8 512.5,748.0 512.9,751.4 513.8,754.8 514.8,757.8 515.7,761.0 516.1,763.9 516.3,767.2 516.5,770.5 516.9,773.6 517.6,776.2 519.5,779.6 522.4,782.0 525.1,782.8 528.4,783.1 532.0,783.0 535.7,782.9 538.7,782.8 542.0,782.6 545.3,782.3 548.6,782.0 551.8,781.5 554.8,781.0 558.5,780.2 562.1,779.4 565.4,778.3 568.0,777.0 570.4,775.1 572.0,772.4 572.6,769.6 572.8,766.0 572.8,761.9 572.7,757.6 572.6,753.3 572.9,749.5 573.5,745.4 574.3,740.8 575.2,736.6 576.0,733.6 576.7,732.4 577.5,734.6 578.1,739.2 578.6,743.8 578.8,747.7 578.8,751.5 579.1,753.3 580.0,750.6 581.3,745.6 582.4,742.9 583.2,744.7 583.8,748.8 584.3,753.3 584.5,756.2 584.5,759.4 584.5,762.8 584.5,766.2 584.7,769.4 585.2,772.4 586.2,776.0 587.4,779.6 589.0,782.6 591.0,784.8 594.1,785.8 597.8,785.8 601.5,785.8 604.9,786.1 608.3,786.4 612.0,786.7 614.8,786.8 617.9,787.0 621.1,787.1 624.5,787.2 627.8,787.2 631.0,787.4 634.2,787.5 637.3,787.6 640.5,787.7 643.7,787.8 646.8,787.9 650.0,788.0 653.2,788.0 656.3,788.0 659.5,788.0 662.7,787.9 665.9,787.9 669.0,787.8 672.2,787.8 675.4,787.7 678.6,787.7 681.7,787.7 684.9,787.7 688.1,787.6 691.3,787.6 694.4,787.6 697.6,787.5 700.8,787.5 704.0,787.5 707.1,787.4 710.3,787.4 713.5,787.4 716.7,787.3 719.8,787.3 723.0,787.3 726.2,787.2 729.4,787.2 732.5,787.2 735.7,787.1 738.9,787.1 742.0,787.1 745.2,787.1 748.4,787.0 751.6,787.0 754.7,787.0 757.9,786.9 761.1,786.9 764.3,786.9 767.4,786.8 770.6,786.8 773.8,786.8 777.0,786.7 780.1,786.7 783.3,786.7 786.5,786.6 789.7,786.6 792.8,786.6 796.0,786.6 799.2,786.5 802.4,786.5 805.5,786.5 808.7,786.5 811.9,786.5 815.1,786.5 818.2,786.4 821.4,786.3 824.6,786.1 827.8,785.9 830.9,785.6 834.1,785.3 837.3,785.0 840.5,784.7 843.6,784.4 846.8,784.1 850.0,783.8 853.2,783.6 856.4,783.3 859.5,783.0 862.8,782.8 866.1,782.5 869.4,782.2 872.6,782.0 875.7,781.7 878.6,781.4 882.5,781.0 886.1,780.7 890.0,780.0 892.9,779.3 896.0,778.4 899.2,777.4 902.3,776.3 905.3,775.2 908.0,774.0 911.6,772.2 914.7,770.2 917.5,768.0 919.9,765.5 921.9,762.8 923.5,759.7 924.5,756.5 925.1,752.9 925.6,749.1 926.0,745.0 926.4,741.3 926.8,737.4 927.1,733.3 927.3,729.0 927.6,724.6 927.8,720.0 928.0,713.9 928.2,707.6 928.3,701.0 928.5,694.1 928.6,687.1 928.8,680.0 929.1,671.2 929.4,661.7 929.7,651.9 930.1,642.4 930.5,633.6 930.9,626.0 931.2,621.4 931.5,616.7 931.8,612.3 932.1,608.5 932.4,606.0 932.6,605.0 932.8,606.0 933.0,608.5 933.2,612.3 933.3,616.7 933.5,621.5 933.6,626.0 933.8,633.6 934.0,642.4 934.2,651.9 934.4,661.7 934.6,671.2 934.8,680.0 935.0,687.1 935.1,694.1 935.3,701.0 935.4,707.6 935.6,713.9 935.7,720.0 935.8,724.5 935.8,728.9 935.9,733.0 935.9,737.1 936.0,741.1 936.2,745.0 936.4,748.5 936.7,752.0 937.0,755.5 937.3,758.8 937.6,762.0 938.0,765.0 938.4,768.3 938.8,771.5 939.2,774.4 940.0,777.0 941.6,780.7 944.0,783.5 947.1,784.9 950.9,785.5 955.0,786.0 958.1,786.2 961.4,786.3 964.8,786.2 968.2,786.1 971.6,786.1 974.9,786.1 978.2,786.1 981.6,786.1 984.9,786.1 988.2,786.1 991.5,786.2 994.8,786.2 998.2,786.2 1001.5,786.2 1004.8,786.2 1008.1,786.3 1011.4,786.3 1014.7,786.3 1018.1,786.4 1021.4,786.3 1024.8,786.2 1028.2,786.0 1031.7,785.8 1035.1,785.5 1038.5,785.3 1041.9,785.1 1045.4,784.9 1048.8,784.7 1052.2,784.5 1055.6,784.3 1059.1,784.1 1062.5,783.9 1065.9,783.8 1069.3,783.6 1072.8,783.4 1076.2,783.2 1079.6,783.0 1083.0,782.8 1086.5,782.6 1089.9,782.4 1093.3,782.1 1096.8,781.9 1100.3,781.6 1103.7,781.5 1107.0,781.4 1110.3,781.7 1113.5,782.1 1116.7,782.5 1120.0,782.4 1122.9,781.9 1126.0,781.0 1129.2,779.9 1132.4,778.7 1135.3,777.5 1138.0,776.4 1141.5,774.9 1144.7,773.4 1147.5,771.7 1150.6,769.0 1153.0,766.0 1154.7,763.2 1155.9,760.0 1156.5,757.6 1156.9,754.8 1157.3,751.8 1157.6,748.5 1157.9,745.0 1158.3,740.0 1158.6,734.5 1158.8,728.6 1159.0,722.4 1159.2,716.1 1159.5,710.0 1159.8,703.4 1160.2,696.7 1160.5,689.8 1160.9,683.0 1161.2,676.4 1161.5,670.0 1161.7,664.8 1162.0,659.8 1162.2,654.8 1162.4,650.0 1162.6,645.1 1162.8,640.0 1163.0,633.7 1163.3,626.3 1163.5,618.9 1163.7,612.4 1164.0,607.8 1164.2,606.0 1164.4,607.8 1164.7,612.4 1164.9,618.9 1165.2,626.3 1165.4,633.7 1165.6,640.0 1165.7,645.1 1165.9,650.0 1166.0,654.8 1166.0,659.7 1166.1,664.8 1166.2,670.0 1166.3,676.4 1166.3,683.0 1166.4,689.8 1166.4,696.7 1166.5,703.4 1166.6,710.0 1166.7,716.1 1166.9,722.3 1167.1,728.4 1167.3,734.3 1167.5,739.9 1167.8,745.0 1168.1,748.4 1168.3,751.5 1168.6,754.5 1169.0,757.3 1169.3,760.2 1169.6,763.0 1169.9,766.2 1170.1,769.5 1170.4,772.6 1170.8,775.5 1171.4,778.0 1172.9,781.5 1175.0,784.0 1179.8,786.0 1182.6,786.3 1186.0,786.4 1189.8,786.4 1193.7,786.3 1197.3,786.3 1200.9,786.3 1204.4,786.4 1207.9,786.4 1211.4,786.5 1214.9,786.5 1218.4,786.6 1221.9,786.7 1225.4,786.7 1228.9,786.8 1232.5,786.8 1236.0,786.9 1239.5,786.9 1243.0,787.0 1246.5,787.1 1250.0,787.1 1253.0,787.1 1256.0,787.1 1259.1,787.1 1262.1,787.1 1265.1,787.1 1268.2,787.1 1271.2,787.1 1274.2,787.1 1277.3,787.1 1280.3,787.1 1283.3,787.1 1286.4,787.1 1289.4,787.1 1292.4,787.1 1295.5,787.1 1298.5,787.1 1301.5,787.1 1304.5,787.1 1307.6,787.1 1310.6,787.1 1313.6,787.1 1316.7,787.1 1319.7,787.1 1322.7,787.1 1325.8,787.1 1328.8,787.1 1331.8,787.1 1334.8,787.1 1337.9,787.1 1340.9,787.1 1343.9,787.1 1347.0,787.1 1350.0,787.2 1353.0,787.2 1356.1,787.2 1359.1,787.2 1362.1,787.2 1365.2,787.2 1368.2,787.2 1371.2,787.2 1374.2,787.2 1377.3,787.2 1380.3,787.2 1383.3,787.2 1386.4,787.2 1389.4,787.2 1392.4,787.2 1395.5,787.2 1398.5,787.2 1401.5,787.2 1404.5,787.2 1407.6,787.2 1410.6,787.2 1413.6,787.2 1416.7,787.2 1419.7,787.2 1422.7,787.2 1425.8,787.2 1428.8,787.2 1431.8,787.2 1434.9,787.2 1437.9,787.2 1441.0,787.2 1444.0,787.2 1447.1,787.2 1450.0,787.2 1453.2,787.1 1456.3,787.1 1459.4,787.0 1462.5,786.9 1465.6,786.8 1468.7,786.8 1471.8,786.7 1475.0,786.6 1478.1,786.5 1481.2,786.5 1484.3,786.4 1487.4,786.3 1490.6,786.2 1493.7,786.2 1496.8,786.1 1499.9,786.1 1503.1,786.1 1506.2,786.2 1509.4,786.1 1512.4,785.7 1516.2,785.1 1520.1,784.3 1523.7,783.1 1526.4,781.0 1527.7,778.4 1528.3,774.9 1528.5,770.9 1528.6,766.9 1528.8,763.4 1529.5,760.7 1531.5,757.5 1533.6,756.0 1537.3,760.7 1538.0,763.6 1538.4,767.4 1538.6,771.7 1538.9,776.0 1539.5,779.8 1540.5,782.6 1543.1,785.5 1546.7,787.2 1549.2,787.7 1552.2,787.8 1555.5,787.7 1559.0,787.4 1562.5,787.1 1565.8,787.0 1569.0,787.0 1572.2,787.0 1575.4,786.9 1578.5,786.9 1581.7,786.9 1584.9,786.8 1588.1,786.8 1591.3,786.8 1594.4,786.7 1597.6,786.7 1600.8,786.7 1604.0,786.6 1607.2,786.6 1610.4,786.6 1613.5,786.5 1616.7,786.5 1619.9,786.5 1623.1,786.5 1626.3,786.4 1629.5,786.4 1632.7,786.4 1635.8,786.3 1639.0,786.3 1642.2,786.3 1645.4,786.2 1648.6,786.2 1651.8,786.2 1654.9,786.1 1658.1,786.1 1661.3,786.1 1664.5,786.0 1667.7,786.0 1670.9,786.0 1674.0,786.0 1677.2,785.9 1680.4,785.9 1683.6,785.9 1686.8,785.9 1690.1,785.9 1693.3,785.8 1696.4,785.8 1699.5,785.7 1702.7,785.5 1705.9,785.3 1708.9,785.1 1712.0,784.9 1715.1,784.7 1718.2,784.5 1721.3,784.3 1724.5,784.0 1727.6,783.8 1730.7,783.6 1733.8,783.5 1736.9,783.4 1740.1,783.3 1743.2,783.0 1746.3,782.6 1749.8,782.0 1753.4,781.3 1757.0,780.4 1760.1,779.3 1762.6,778.0 1765.0,775.3 1766.5,772.0 1767.2,769.4 1767.7,766.5 1768.1,763.4 1768.5,760.0 1768.9,756.7 1769.3,753.1 1769.8,749.3 1770.2,745.4 1770.6,741.6 1771.0,738.0 1771.4,734.9 1771.8,731.7 1772.2,728.7 1772.5,725.7 1772.9,722.8 1773.3,720.0 1773.7,716.3 1774.2,712.3 1774.6,709.3 1775.0,708.0 1775.4,709.3 1775.9,712.3 1776.3,716.3 1776.7,720.0 1776.9,722.8 1777.0,725.7 1777.1,728.8 1777.2,731.9 1777.3,735.0 1777.5,738.0 1777.8,741.4 1778.0,744.9 1778.4,748.3 1778.7,751.7 1779.0,755.0 1779.3,758.1 1779.5,761.2 1779.7,764.3 1780.1,767.2 1780.5,770.0 1781.2,773.6 1782.1,777.0 1783.4,780.0 1785.6,783.6 1788.6,786.0 1791.0,786.2 1793.9,785.7 1797.0,784.7 1800.2,783.7 1803.3,782.8 1806.2,782.2 1809.1,781.6 1812.0,781.1 1815.0,780.4 1818.0,779.6 1821.1,778.7 1824.4,777.6 1827.7,776.4 1831.0,775.2 1834.2,774.0 1837.2,772.7 1840.3,771.4 1843.3,770.2 1846.2,768.8 1848.8,767.4 1851.0,765.7 1853.1,763.1 1854.7,760.1 1856.0,757.0 1857.1,754.3 1858.0,751.4 1858.8,748.4 1859.5,745.0 1860.1,741.3 1860.6,737.2 1861.0,732.8 1861.3,728.3 1861.7,724.0 1862.0,720.0 1862.3,716.6 1862.6,713.6 1862.9,710.6 1863.1,707.2 1863.3,703.0 1863.6,692.3 1863.8,678.8 1863.9,663.3 1863.9,647.1 1864.0,630.9 1864.2,616.0 1864.4,602.7 1864.7,589.1 1864.9,575.8 1865.2,562.9 1865.6,550.8 1866.0,540.0 1866.4,532.9 1866.8,525.3 1867.2,518.2 1867.7,512.2 1868.1,508.0 1868.4,506.5 1868.7,508.1 1868.9,512.2 1869.1,518.2 1869.3,525.4 1869.5,532.9 1869.6,540.0 1869.7,550.8 1869.7,562.9 1869.7,575.8 1869.6,589.1 1869.6,602.7 1869.6,616.0 1869.6,630.7 1869.7,646.4 1869.7,662.2 1869.8,677.5 1870.0,691.3 1870.2,703.0 1870.4,708.5 1870.6,713.3 1870.8,717.8 1871.0,722.0 1871.3,726.0 1871.5,730.0 1871.7,733.2 1871.8,736.2 1871.9,739.2 1872.1,742.1 1872.3,745.0 1872.5,748.0 1872.8,751.4 1873.2,754.9 1873.5,758.4 1874.0,761.8 1874.5,765.1 1875.0,768.0 1875.8,771.7 1876.7,775.0 1878.0,778.0 1879.7,780.8 1881.7,783.4 1884.0,784.8 1887.5,783.6 1891.4,782.0 1894.9,782.9 1898.6,784.7 1902.3,785.7 1906.0,784.8 1909.7,783.2 1913.2,782.6 1915.8,783.8 1918.2,785.7 1921.0,787.2 1923.6,787.7 1926.5,787.8 1929.6,787.7 1932.9,787.6 1936.2,787.4 1939.3,787.3 1942.4,787.3 1945.4,787.4 1948.5,787.4 1951.5,787.4 1954.6,787.4 1957.7,787.5 1960.7,787.5 1963.8,787.5 1966.8,787.5 1969.9,787.5 1972.9,787.6 1976.0,787.6 1979.0,787.6 1982.1,787.6 1985.1,787.6 1988.2,787.7 1991.2,787.7 1994.3,787.7 1997.4,787.7 2000.4,787.7 2003.5,787.8 2006.5,787.8 2009.6,787.8 2012.6,787.8 2015.7,787.8 2018.7,787.9 2021.8,787.9 2024.8,787.9 2027.9,787.9 2030.9,788.0 2034.0,788.0 2037.1,788.0 2040.1,788.0 2043.2,788.0 2046.2,788.1 2049.3,788.1 2052.3,788.1 2055.4,788.1 2058.4,788.1 2061.5,788.2 2064.5,788.2 2067.6,788.2" fill="none" stroke="#0000ff" stroke-width="8" stroke-linejoin="round" stroke-linecap="butt"/>
<polyline points="30.0,1061.0 31.6,1060.5 33.2,1060.1 34.8,1061.5 36.4,1059.9 38.0,1061.2 39.6,1060.8 41.2,1059.9 42.8,1061.2 44.4,1059.9 46.0,1061.1 47.6,1060.1 49.2,1060.2 50.8,1061.2 52.4,1062.3 54.0,1060.4 55.6,1060.7 57.2,1061.8 58.8,1062.7 60.4,1061.7 62.0,1061.2 63.6,1062.8 65.2,1060.1 66.8,1062.4 68.4,1060.7 70.0,1060.3 71.6,1060.1 73.2,1060.6 74.8,1062.0 76.4,1060.2 78.0,1061.3 79.6,1061.4 81.2,1060.6 82.8,1061.1 84.4,1059.7 86.0,1059.6 87.6,1060.0 89.2,1061.3 90.8,1060.5 92.4,1060.2 94.0,1060.9 95.6,1060.5 97.2,1060.0 98.8,1061.4 100.4,1061.0 102.0,1059.7 103.6,1060.6 105.2,1060.5 106.8,1061.4 108.4,1061.0 110.0,1059.7 111.6,1061.6 113.2,1059.1 114.8,1059.9 116.4,1060.9 118.0,1059.1 119.6,1060.0 121.2,1058.7 122.8,1060.5 124.4,1060.7 126.0,1060.1 127.6,1060.9 129.2,1059.3 130.8,1060.4 132.4,1060.1 134.0,1060.0 135.6,1059.7 137.2,1060.7 138.8,1060.9 140.4,1059.5 142.0,1059.9 143.6,1058.1 145.2,1059.7 146.7,1059.4 148.3,1060.2 149.9,1059.5 151.5,1057.8 153.1,1057.9 154.7,1058.6 156.3,1056.6 157.9,1057.7 159.5,1056.7 161.1,1056.4 162.7,1056.1 164.3,1057.9 165.8,1056.0 167.4,1056.1 169.0,1056.3 170.6,1057.4 172.2,1054.9 173.7,1055.7 175.3,1055.6 176.9,1056.2 178.4,1055.7 180.0,1055.5 181.6,1053.5 183.1,1053.6 184.7,1053.2 186.3,1054.3 187.8,1054.2 189.4,1051.6 190.9,1051.2 192.5,1050.9 194.0,1050.4 195.5,1050.6 197.0,1050.4 198.5,1048.9 200.0,1047.6 201.5,1048.2 203.0,1047.5 204.5,1047.5 206.0,1047.9 207.5,1046.6 208.9,1045.5 210.4,1045.2 211.9,1044.7 213.3,1042.3 214.8,1043.9 216.2,1042.9 217.6,1042.4 219.0,1041.4 220.4,1039.4 221.7,1038.6 223.1,1036.9 224.4,1037.5 225.7,1035.0 227.0,1034.1 228.3,1033.6 229.7,1032.5 231.0,1032.1 232.3,1030.4 233.6,1029.4 235.0,1028.9 236.3,1027.9 237.6,1027.7 238.8,1025.6 239.9,1026.9 240.9,1024.9 241.8,1022.3 242.6,1021.2 243.4,1020.1 244.2,1018.7 244.9,1016.6 245.6,1017.2 246.2,1016.2 246.9,1013.2 247.7,1011.9 248.4,1009.4 249.2,1008.0 250.1,1007.3 251.0,1005.8 251.9,1006.0 252.8,1002.8 253.6,1001.1 254.4,1002.3 255.2,999.7 255.8,997.2 256.4,996.8 257.0,993.9 257.6,993.8 258.1,993.5 258.7,991.7 259.3,989.8 259.9,987.1 260.6,986.0 261.4,984.0 262.2,984.3 263.1,982.3 263.9,981.6 264.9,979.1 265.8,977.5 266.7,977.8 267.7,977.0 268.6,975.4 269.6,974.0 270.6,972.8 271.6,971.3 272.6,968.6 273.6,968.2 274.7,966.5 275.7,964.4 276.8,963.2 277.8,962.7 278.9,961.4 280.0,961.5 281.1,961.1 282.2,958.5 283.3,958.7 284.5,957.7 285.6,956.6 286.8,953.8 288.0,952.4 289.3,951.4 290.5,950.3 291.8,949.3 293.1,949.6 294.4,949.5 295.8,948.5 297.2,946.7 298.6,946.4 300.0,946.1 301.4,943.4 302.8,944.2 304.3,944.1 305.7,943.0 307.0,942.1 308.4,940.5 309.7,938.7 310.9,939.4 312.1,937.1 313.2,937.3 314.3,936.6 315.3,933.7 316.3,932.5 317.3,932.7 318.2,930.7 319.0,927.8 319.9,926.4 320.7,925.1 321.5,925.8 322.3,924.2 323.1,920.9 324.0,921.5 324.7,920.5 325.5,918.2 326.2,915.9 326.9,915.0 327.6,912.4 328.3,910.6 329.0,911.9 329.7,909.5 330.3,907.7 330.9,907.4 331.6,904.5 332.2,904.2 332.7,902.6 333.3,899.4 333.8,898.0 334.3,896.6 334.8,894.9 335.3,894.4 335.9,892.0 336.4,890.9 336.9,888.6 337.4,889.2 338.0,886.2 338.5,885.0 339.1,883.8 339.7,883.3 340.4,880.4 341.1,880.4 341.8,877.8 342.6,876.5 343.4,875.1 344.2,872.3 345.0,872.1 345.9,870.0 346.7,868.2 347.5,869.0 348.3,865.9 349.2,865.3 349.9,864.6 350.7,862.8 351.4,860.7 352.2,859.8 352.9,858.5 353.7,857.8 354.5,854.5 355.3,854.4 356.1,852.1 357.0,850.9 357.9,850.9 358.8,848.9 359.7,847.7 360.7,847.0 361.6,846.1 362.6,843.5 363.6,842.8 364.6,841.2 365.7,840.0 366.8,839.4 367.9,837.6 369.1,836.7 370.3,835.5 371.5,835.8 372.8,834.2 374.2,833.8 375.6,833.2 377.0,830.6 378.4,830.7 379.9,831.1 381.4,830.2 382.8,827.6 384.3,827.0 385.8,827.4 387.4,825.9 388.9,825.9 390.5,825.1 392.0,826.4 393.6,826.5 395.2,826.5 396.7,824.0 398.3,825.1 399.8,824.5 401.3,822.6 402.9,824.2 404.5,824.4 406.0,822.3 407.6,824.8 409.0,823.9 410.4,825.0 411.7,827.3 412.9,827.9 414.1,827.1 415.3,828.9 416.4,830.3 417.3,831.1 418.3,832.0 419.2,833.6 420.1,836.1 421.0,835.5 421.8,838.3 422.7,839.4 423.6,839.5 424.5,841.7 425.4,843.8 426.3,844.8 427.3,844.8 428.3,848.7 429.3,849.4 430.3,851.1 431.3,850.0 432.3,851.7 433.3,852.3 434.3,855.6 435.2,855.5 436.2,856.4 437.1,858.5 438.0,861.2 438.8,862.3 439.7,862.1 440.5,863.2 441.2,866.7 442.0,867.2 442.7,868.9 443.4,868.7 444.1,870.0 444.8,873.2 445.5,873.9 446.2,874.4 446.8,878.3 447.5,878.9 448.2,880.8 448.9,880.2 449.5,883.9 450.2,883.1 450.9,886.8 451.5,887.1 452.1,888.3 452.7,890.3 453.3,892.9 454.0,892.5 454.6,893.6 455.2,896.2 455.8,896.8 456.4,898.0 457.1,899.6 457.8,900.7 458.5,902.5 459.3,904.3 460.1,905.6 460.9,908.3 461.8,908.3 462.7,910.2 463.7,910.5 464.7,912.3 465.7,912.6 466.7,914.4 467.8,915.0 468.9,918.1 470.0,918.8 471.1,919.0 472.2,920.9 473.3,923.4 474.4,922.2 475.5,925.4 476.6,925.4 477.7,926.7 478.9,928.8 480.0,928.7 481.2,930.1 482.3,931.7 483.5,933.7 484.6,933.0 485.7,935.5 486.8,936.3 487.9,937.3 488.9,937.9 490.0,938.9 491.1,939.3 492.2,940.6 493.4,941.6 494.6,944.4 495.9,944.0 497.3,944.5 498.7,945.1 500.2,947.7 501.7,948.4 503.2,948.4 504.8,947.8 506.3,948.2 507.8,948.9 509.2,950.1 510.6,950.0 511.9,951.7 513.2,952.2 514.4,955.2 515.6,956.3 516.7,956.3 517.8,956.6 518.9,959.8 519.9,959.1 521.0,960.5 522.0,960.7 523.0,963.0 523.9,964.6 524.8,966.0 525.7,966.5 526.6,968.7 527.4,968.6 528.3,970.7 529.2,971.5 530.1,973.7 531.1,974.0 532.2,975.1 533.2,977.1 534.4,978.0 535.5,980.1 536.7,981.0 537.9,982.7 539.2,983.4 540.4,984.6 541.8,985.9 543.1,985.5 544.5,986.1 545.8,988.7 547.3,987.0 548.8,989.1 550.4,989.2 552.0,987.7 553.6,989.8 555.2,989.9 556.8,989.0 558.4,989.2 560.0,989.3 561.6,987.3 563.2,988.3 564.8,988.1 566.4,988.9 568.0,988.8 569.6,988.9 571.1,988.4 572.7,989.6 574.2,989.5 575.7,990.1 577.2,989.4 578.6,989.6 580.0,990.6 581.4,992.1 582.7,992.2 584.1,995.2 585.3,995.4 586.6,996.6 587.8,997.6 588.9,998.9 590.0,999.6 591.1,999.4 592.0,1002.9 593.0,1004.0 594.0,1004.6 594.9,1006.0 595.8,1007.7 596.7,1007.3 597.6,1010.6 598.4,1010.6 599.3,1011.4 600.1,1013.3 601.0,1016.0 601.8,1015.9 602.6,1018.7 603.5,1020.7 604.3,1020.7 605.2,1021.8 606.0,1023.4 606.8,1025.4 607.6,1027.0 608.4,1028.0 609.1,1029.5 609.9,1029.3 610.7,1030.9 611.5,1032.6 612.3,1035.3 613.1,1035.5 614.0,1037.6 614.9,1037.3 615.8,1038.8 616.7,1040.7 617.6,1043.1 618.6,1044.4 619.5,1045.7 620.5,1045.9 621.5,1047.8 622.5,1048.9 623.5,1050.1 624.5,1050.4 625.5,1053.8 626.5,1053.1 627.5,1056.5 628.5,1057.6 629.6,1056.3 630.6,1058.8 631.6,1061.0 632.6,1062.6 633.7,1062.4 634.7,1063.1 635.8,1064.2 636.8,1067.4 637.9,1066.5 639.1,1068.7 640.2,1068.6 641.4,1070.7 642.6,1073.0 643.8,1071.7 645.1,1074.6 646.4,1074.7 647.7,1076.6 649.1,1077.0 650.4,1076.5 651.8,1079.1 653.2,1078.7 654.7,1078.1 656.1,1078.7 657.6,1080.6 659.2,1081.0 660.7,1081.0 662.3,1080.8 663.9,1081.7 665.4,1081.8 667.0,1083.5 668.6,1081.4 670.2,1083.8 671.8,1084.3 673.3,1082.6 674.9,1085.2 676.5,1084.9 678.0,1085.8 679.6,1084.4 681.2,1084.9 682.7,1085.2 684.3,1087.2 685.9,1086.3 687.5,1085.8 689.1,1086.1 690.7,1085.8 692.3,1085.3 693.9,1085.5 695.5,1087.6 697.1,1086.2 698.7,1088.1 700.3,1086.3 701.9,1086.4 703.5,1087.2 705.1,1086.4 706.7,1087.1 708.3,1088.8 709.8,1088.7 711.4,1088.6 713.0,1088.2 714.6,1089.1 716.2,1089.2 717.8,1088.2 719.4,1088.7 721.0,1086.9 722.6,1088.9 724.2,1088.1 725.8,1089.0 727.4,1088.8 729.0,1087.8 730.6,1087.2 732.2,1089.8 733.8,1087.6 735.4,1088.6 737.0,1088.3 738.6,1088.3 740.2,1089.5 741.8,1090.2 743.4,1088.2 745.0,1089.3 746.6,1088.2 748.2,1088.9 749.8,1088.3 751.4,1087.6 753.0,1087.5 754.6,1087.5 756.2,1089.3 757.8,1088.1 759.4,1087.3 761.0,1089.1 762.6,1089.3 764.2,1087.7 765.8,1086.7 767.4,1086.8 769.0,1086.4 770.6,1087.0 772.2,1086.2 773.8,1086.5 775.4,1086.5 777.0,1087.2 778.6,1088.0 780.2,1087.5 781.8,1086.4 783.3,1086.3 784.9,1086.5 786.5,1085.9 788.1,1085.7 789.7,1084.9 791.3,1085.4 792.9,1087.2 794.5,1084.7 796.1,1085.7 797.7,1085.9 799.3,1086.4 800.9,1084.4 802.5,1084.4 804.1,1084.1 805.7,1084.3 807.2,1084.2 808.8,1085.4 810.4,1084.9 812.0,1084.7 813.6,1082.1 815.2,1081.9 816.8,1083.6 818.3,1084.0 819.9,1082.6 821.5,1082.7 823.1,1080.9 824.7,1081.8 826.3,1083.0 827.8,1082.4 829.4,1082.2 831.0,1082.2 832.5,1079.8 834.1,1078.9 835.6,1078.6 837.1,1079.2 838.7,1079.2 840.2,1079.5 841.7,1078.4 843.3,1077.8 844.8,1077.8 846.4,1076.5 848.0,1076.4 849.5,1074.7 851.1,1076.3 852.6,1074.4 854.2,1075.8 855.7,1074.5 857.2,1073.0 858.6,1071.9 860.1,1071.5 861.5,1071.9 862.9,1071.4 864.3,1069.0 865.7,1068.1 867.1,1068.6 868.5,1067.9 869.9,1066.5 871.2,1065.2 872.6,1065.4 873.9,1062.8 875.2,1062.7 876.5,1062.2 877.7,1062.6 879.0,1060.8 880.2,1060.4 881.4,1058.1 882.5,1056.3 883.6,1055.2 884.6,1056.0 885.7,1054.1 886.7,1051.7 887.7,1049.7 888.8,1049.8 889.8,1049.1 890.8,1047.1 891.9,1045.5 892.9,1045.4 894.0,1045.0 895.1,1041.8 896.2,1040.2 897.3,1039.8 898.5,1039.0 899.7,1038.7 901.0,1036.3 902.3,1037.1 903.6,1036.0 904.9,1034.4 906.2,1032.7 907.6,1034.0 909.0,1031.3 910.3,1031.9 911.7,1029.4 913.1,1028.6 914.4,1029.2 915.7,1027.0 917.0,1027.9 918.4,1025.8 919.8,1024.2 921.2,1023.6 922.8,1024.0 924.4,1024.6 926.0,1025.4 927.5,1023.7 929.1,1024.8 930.4,1025.0 931.6,1028.3 932.6,1027.2 933.5,1028.3 934.3,1029.6 935.3,1031.8 936.3,1034.5 937.4,1035.6 938.7,1036.1 940.0,1037.8 941.4,1038.4 942.8,1037.5 944.2,1037.9 945.6,1040.7 947.1,1040.8 948.5,1039.5 950.0,1041.9 951.5,1041.6 953.0,1042.2 954.5,1042.6 956.1,1042.6 957.6,1042.6 959.1,1043.8 960.7,1044.4 962.2,1046.5 963.8,1044.5 965.3,1047.2 966.9,1045.4 968.5,1046.2 970.1,1047.7 971.6,1048.0 973.2,1047.2 974.8,1046.4 976.4,1047.9 977.9,1047.8 979.5,1049.6 981.1,1047.9 982.7,1048.6 984.2,1050.5 985.8,1048.4 987.3,1049.9 988.8,1051.5 990.4,1051.9 991.9,1050.5 993.4,1051.0 994.9,1051.6 996.4,1054.6 997.8,1053.3 999.3,1055.2 1000.8,1056.2 1002.4,1055.2 1003.9,1055.5 1005.4,1057.9 1006.9,1057.4 1008.5,1056.7 1010.1,1058.3 1011.7,1057.4 1013.2,1057.5 1014.8,1056.9 1016.4,1059.2 1018.0,1059.9 1019.6,1059.4 1021.2,1060.6 1022.7,1058.3 1024.3,1059.2 1025.9,1060.0 1027.5,1061.5 1029.1,1061.5 1030.7,1059.7 1032.2,1059.1 1033.8,1059.2 1035.3,1059.0 1036.9,1059.8 1038.4,1057.3 1040.0,1058.7 1041.6,1058.2 1043.1,1058.2 1044.7,1057.7 1046.3,1057.0 1047.8,1055.8 1049.4,1055.4 1050.9,1055.0 1052.4,1055.7 1053.9,1053.1 1055.4,1052.9 1056.9,1053.8 1058.4,1051.8 1059.8,1050.7 1061.3,1049.9 1062.8,1050.8 1064.3,1049.5 1065.7,1050.7 1067.2,1049.8 1068.7,1049.5 1070.2,1046.9 1071.7,1045.8 1073.2,1045.3 1074.7,1045.9 1076.2,1046.0 1077.7,1044.7 1079.2,1043.6 1080.7,1043.6 1082.3,1043.7 1083.8,1043.3 1085.3,1043.1 1086.8,1042.8 1088.4,1041.9 1089.9,1039.9 1091.4,1041.4 1092.9,1039.4 1094.5,1039.7 1096.0,1038.8 1097.6,1039.4 1099.1,1037.5 1100.7,1037.2 1102.2,1036.8 1103.8,1036.1 1105.3,1037.9 1106.9,1036.7 1108.5,1035.7 1110.0,1035.5 1111.6,1036.7 1113.1,1034.8 1114.5,1033.4 1115.9,1034.2 1117.2,1032.9 1118.5,1032.8 1119.7,1029.3 1120.9,1029.3 1122.1,1029.2 1123.3,1028.2 1124.4,1027.3 1125.5,1023.6 1126.6,1023.2 1127.6,1021.5 1128.7,1020.4 1129.5,1021.3 1130.4,1018.9 1131.2,1018.4 1131.9,1015.5 1132.6,1015.4 1133.3,1012.8 1134.0,1010.8 1134.8,1010.9 1135.6,1010.0 1136.5,1006.3 1137.5,1006.4 1138.5,1005.2 1139.5,1002.8 1140.5,1002.0 1141.5,1000.2 1142.6,999.1 1143.6,998.1 1144.7,997.8 1145.7,996.8 1146.8,994.3 1147.8,992.6 1148.9,992.2 1149.9,992.0 1150.9,989.4 1152.0,988.6 1153.1,987.1 1154.2,987.6 1155.4,985.8 1156.6,983.5 1157.9,982.6 1159.2,982.5 1160.6,982.1 1161.9,981.5 1163.3,979.2 1164.8,978.7 1166.3,979.7 1167.9,978.5 1169.4,978.0 1171.0,978.2 1172.6,980.2 1174.1,978.8 1175.7,980.0 1177.1,980.2 1178.5,981.1 1179.7,983.4 1180.9,984.9 1181.8,984.4 1182.8,985.2 1183.7,988.0 1184.6,987.8 1185.5,988.6 1186.4,992.5 1187.3,992.4 1188.3,994.8 1189.4,994.8 1190.6,997.2 1191.7,997.1 1193.0,997.3 1194.2,997.9 1195.4,1000.4 1196.7,1001.7 1197.9,1003.5 1199.1,1002.2 1200.3,1004.7 1201.6,1005.0 1202.8,1006.4 1204.1,1006.4 1205.4,1007.8 1206.6,1009.4 1207.9,1011.4 1209.3,1010.0 1210.7,1011.9 1212.0,1013.6 1213.5,1014.8 1214.9,1013.3 1216.3,1013.9 1217.8,1016.9 1219.2,1017.7 1220.6,1017.1 1221.9,1016.7 1223.3,1020.1 1224.6,1019.5 1225.8,1021.9 1227.1,1022.1 1228.3,1023.7 1229.6,1022.9 1230.8,1025.7 1232.0,1025.1 1233.1,1026.7 1234.3,1029.1 1235.5,1030.1 1236.6,1029.4 1237.8,1030.6 1238.9,1032.2 1240.1,1033.7 1241.2,1034.5 1242.3,1034.9 1243.3,1036.4 1244.4,1039.0 1245.5,1040.6 1246.6,1039.4 1247.7,1042.0 1248.8,1043.8 1249.9,1042.9 1251.0,1046.3 1252.1,1045.4 1253.3,1047.8 1254.4,1048.8 1255.6,1050.2 1256.7,1050.4 1257.8,1051.8 1259.0,1053.4 1260.2,1054.0 1261.4,1055.7 1262.6,1056.2 1263.9,1057.1 1265.2,1056.9 1266.5,1059.4 1267.9,1059.9 1269.3,1059.9 1270.8,1062.1 1272.2,1062.8 1273.7,1062.5 1275.2,1062.3 1276.7,1063.7 1278.2,1063.2 1279.7,1063.8 1281.2,1065.2 1282.7,1064.7 1284.3,1066.1 1285.8,1066.7 1287.4,1065.7 1288.9,1067.8 1290.5,1066.6 1292.0,1068.9 1293.6,1069.4 1295.1,1069.1 1296.6,1068.3 1298.2,1070.0 1299.7,1070.0 1301.3,1071.9 1302.9,1069.9 1304.5,1072.1 1306.1,1072.6 1307.7,1072.0 1309.3,1072.3 1310.9,1070.7 1312.5,1073.0 1314.0,1071.8 1315.6,1073.3 1317.2,1073.3 1318.8,1071.3 1320.4,1073.2 1322.0,1073.7 1323.6,1071.4 1325.2,1072.3 1326.8,1073.5 1328.4,1071.9 1330.0,1074.0 1331.6,1072.3 1333.2,1073.9 1334.8,1072.0 1336.4,1073.1 1338.0,1074.3 1339.6,1072.4 1341.2,1072.6 1342.8,1073.4 1344.4,1072.9 1346.0,1072.2 1347.6,1072.7 1349.2,1072.6 1350.8,1074.8 1352.4,1074.1 1354.0,1074.6 1355.6,1072.5 1357.2,1074.1 1358.8,1072.1 1360.4,1073.1 1362.0,1073.2 1363.6,1072.3 1365.2,1073.6 1366.7,1072.6 1368.3,1072.5 1369.9,1073.3 1371.5,1071.0 1373.1,1073.3 1374.7,1072.2 1376.3,1071.4 1377.9,1072.4 1379.5,1070.8 1381.1,1072.7 1382.7,1071.4 1384.3,1070.6 1385.9,1071.6 1387.5,1070.5 1389.1,1069.6 1390.7,1071.0 1392.3,1069.0 1393.8,1071.0 1395.4,1069.3 1397.0,1070.3 1398.6,1071.0 1400.2,1069.7 1401.8,1069.7 1403.3,1068.3 1404.9,1067.0 1406.4,1066.6 1407.9,1066.5 1409.5,1067.3 1411.0,1066.3 1412.5,1066.0 1414.1,1066.7 1415.6,1064.1 1417.1,1063.9 1418.7,1064.7 1420.2,1062.4 1421.7,1061.9 1423.2,1062.4 1424.7,1061.1 1426.2,1061.2 1427.7,1060.2 1429.2,1060.6 1430.6,1060.0 1432.1,1058.2 1433.6,1058.8 1435.0,1057.7 1436.5,1056.1 1438.0,1057.8 1439.5,1055.2 1441.0,1054.4 1442.5,1053.8 1444.0,1054.8 1445.6,1055.1 1447.1,1054.5 1448.7,1053.2 1450.3,1052.7 1451.9,1051.8 1453.5,1053.4 1455.1,1053.0 1456.7,1052.2 1458.3,1052.9 1459.8,1052.1 1461.4,1053.3 1463.0,1052.5 1464.6,1050.9 1466.1,1052.4 1467.6,1049.4 1469.1,1050.2 1470.5,1049.1 1471.8,1047.6 1472.9,1046.0 1474.0,1046.8 1475.1,1043.5 1476.1,1043.8 1477.2,1043.7 1478.2,1040.2 1479.2,1039.1 1480.2,1039.0 1481.2,1037.5 1482.3,1036.7 1483.3,1035.9 1484.3,1032.9 1485.4,1032.1 1486.4,1030.9 1487.4,1028.9 1488.5,1030.1 1489.5,1028.5 1490.4,1027.0 1491.3,1023.7 1492.3,1024.8 1493.1,1023.1 1493.9,1020.9 1494.6,1020.3 1495.2,1018.0 1495.8,1015.9 1496.4,1014.1 1496.9,1012.9 1497.4,1010.8 1497.8,1010.1 1498.2,1009.7 1498.7,1008.0 1499.1,1006.9 1499.5,1005.0 1499.9,1002.2 1500.3,1001.5 1500.7,999.6 1501.1,999.0 1501.5,996.7 1501.8,994.4 1502.2,993.9 1502.5,993.3 1502.9,989.6 1503.2,989.9 1503.5,985.9 1503.8,985.0 1504.1,983.4 1504.4,983.2 1504.6,982.2 1504.9,980.1 1505.2,977.3 1505.4,977.3 1505.6,974.2 1505.8,972.3 1506.0,972.6 1506.2,970.3 1506.4,968.8 1506.6,967.2 1506.8,966.5 1507.0,963.5 1507.2,962.9 1507.5,960.9 1507.7,959.8 1508.1,957.1 1508.5,956.3 1509.1,954.4 1509.6,952.1 1510.3,950.9 1511.6,952.9 1512.9,952.3 1514.3,955.5 1515.6,953.8 1517.0,952.6 1518.2,951.8 1519.3,952.9 1520.4,950.1 1521.5,948.4 1522.5,946.9 1523.6,945.7 1524.6,946.3 1525.8,945.1 1527.1,944.4 1528.7,944.5 1530.3,942.7 1531.9,944.3 1532.8,945.0 1533.6,947.6 1534.1,949.1 1534.5,950.9 1534.9,950.1 1535.2,953.9 1535.4,955.6 1535.4,957.3 1535.5,956.6 1535.5,958.5 1535.5,959.8 1535.6,961.2 1535.7,965.1 1535.8,966.5 1536.0,967.6 1536.4,969.7 1536.9,970.7 1537.8,971.1 1538.7,971.8 1539.9,972.9 1541.0,975.9 1542.0,975.6 1543.0,977.2 1543.8,978.8 1544.6,979.1 1545.3,981.2 1546.1,982.7 1546.6,985.4 1547.2,985.9 1547.7,987.3 1548.2,990.6 1548.5,990.9 1548.9,993.4 1549.2,994.4 1549.4,994.3 1549.7,996.9 1549.9,998.6 1550.2,1001.1 1550.4,1001.5 1550.7,1004.1 1550.9,1005.2 1551.1,1005.9 1551.3,1009.3 1551.5,1008.7 1551.7,1012.3 1551.9,1012.1 1552.0,1013.2 1552.2,1015.4 1552.4,1018.5 1552.7,1020.7 1553.0,1019.6 1553.3,1022.5 1553.8,1024.0 1554.3,1026.4 1554.9,1026.2 1555.5,1028.5 1556.1,1029.6 1556.8,1032.4 1557.5,1032.2 1558.1,1035.6 1558.8,1035.2 1559.4,1036.5 1560.0,1039.3 1560.6,1040.2 1561.3,1040.6 1561.9,1043.5 1562.7,1043.4 1563.6,1046.7 1564.5,1047.7 1565.6,1049.1 1566.9,1049.7 1568.2,1049.9 1569.6,1050.8 1571.0,1051.5 1572.4,1053.5 1573.9,1051.9 1575.4,1054.8 1576.8,1053.1 1578.3,1054.2 1579.7,1055.1 1581.2,1057.5 1582.7,1057.0 1584.2,1057.3 1585.6,1059.3 1587.2,1058.0 1588.7,1059.1 1590.2,1059.7 1591.8,1060.7 1593.3,1061.1 1594.9,1060.8 1596.5,1060.0 1598.1,1059.8 1599.6,1058.8 1601.1,1060.1 1602.5,1058.9 1603.9,1058.3 1605.2,1055.8 1606.6,1055.7 1607.9,1055.7 1609.2,1054.2 1610.4,1051.9 1611.6,1051.8 1612.8,1051.9 1613.9,1049.0 1615.2,1047.9 1616.4,1047.2 1617.8,1047.4 1619.1,1047.0 1620.6,1044.5 1622.1,1043.9 1623.7,1043.7 1625.2,1043.6 1626.8,1043.7 1628.3,1042.3 1629.9,1042.4 1631.4,1041.5 1632.9,1043.1 1634.4,1041.8 1635.8,1039.5 1637.3,1041.3 1638.8,1038.3 1640.3,1038.5 1641.8,1039.6 1643.3,1038.5 1644.8,1037.8 1646.3,1036.4 1647.8,1035.3 1649.4,1036.0 1650.9,1034.1 1652.4,1034.0 1654.0,1034.1 1655.6,1032.8 1657.1,1033.4 1658.7,1034.2 1660.3,1033.7 1661.8,1032.9 1663.4,1033.4 1665.0,1033.0 1666.4,1032.9 1667.8,1035.0 1669.1,1035.3 1670.4,1037.2 1671.7,1038.6 1673.2,1037.9 1674.7,1038.6 1676.3,1039.4 1677.9,1038.5 1679.5,1038.1 1681.1,1039.5 1682.7,1040.0 1684.3,1039.8 1685.9,1039.7 1687.5,1040.2 1689.1,1039.8 1690.7,1039.7 1692.3,1039.2 1693.9,1038.7 1695.5,1039.4 1697.0,1037.7 1698.6,1038.2 1700.1,1038.8 1701.7,1038.1 1703.1,1037.2 1704.6,1035.5 1706.0,1035.3 1707.4,1034.6 1708.7,1034.2 1710.0,1032.6 1711.2,1032.3 1712.4,1031.9 1713.5,1028.6 1714.5,1028.8 1715.6,1027.9 1716.6,1025.6 1717.7,1024.7 1718.7,1024.8 1719.7,1021.0 1720.7,1021.1 1721.7,1018.8 1722.7,1019.2 1723.6,1018.4 1724.5,1015.9 1725.5,1013.4 1726.3,1013.4 1727.2,1012.0 1728.0,1011.1 1728.8,1009.1 1729.6,1008.1 1730.4,1007.2 1731.1,1004.9 1731.8,1003.2 1732.5,1003.2 1733.1,999.7 1733.8,999.6 1734.4,997.3 1734.9,996.8 1735.5,993.5 1736.0,994.4 1736.5,991.2 1737.0,988.8 1737.5,987.9 1737.9,986.7 1738.4,984.1 1738.8,983.6 1739.1,982.1 1739.5,981.3 1739.8,978.8 1740.1,977.0 1740.4,975.3 1740.6,975.1 1740.8,974.1 1741.0,971.4 1741.2,968.9 1741.4,969.0 1741.5,966.2 1741.7,964.1 1741.9,962.3 1742.1,962.5 1742.3,961.0 1742.5,958.9 1742.7,956.9 1742.9,955.6 1743.1,953.0 1743.3,953.5 1743.5,950.2 1743.8,949.4 1744.0,948.4 1744.2,946.8 1744.4,944.2 1744.6,942.1 1744.9,941.3 1745.1,938.5 1745.3,938.9 1745.5,936.0 1745.7,935.8 1745.9,932.6 1746.1,931.3 1746.3,929.3 1746.5,928.2 1746.7,926.0 1746.9,923.9 1747.1,924.3 1747.3,921.5 1747.6,919.8 1747.8,918.4 1748.0,917.3 1748.2,915.6 1748.4,914.5 1748.6,913.0 1748.8,910.6 1749.0,910.6 1749.2,908.8 1749.4,905.0 1749.7,905.6 1750.0,904.2 1750.4,902.3 1750.8,899.0 1751.2,899.4 1751.7,897.3 1752.2,894.0 1752.8,892.5 1753.3,893.7 1753.9,891.3 1754.5,888.7 1755.1,886.8 1755.6,885.4 1756.2,884.2 1756.8,884.2 1757.4,881.5 1758.0,879.5 1758.5,880.1 1759.1,878.3 1759.7,875.1 1760.3,875.6 1761.0,873.4 1761.6,872.4 1762.1,870.6 1762.7,869.7 1763.3,867.9 1763.8,866.5 1764.2,863.2 1764.6,863.0 1764.9,861.0 1765.1,860.0 1765.4,857.6 1765.6,857.2 1765.8,854.7 1766.2,852.4 1766.7,850.8 1767.5,849.1 1768.3,848.7 1769.1,846.1 1770.2,846.1 1771.4,844.2 1772.7,844.8 1773.8,845.9 1774.8,847.2 1775.5,849.6 1776.1,848.7 1776.6,852.5 1776.9,853.0 1777.1,854.9 1777.1,856.8 1777.2,858.9 1777.2,859.2 1777.2,860.9 1777.1,864.0 1777.1,863.1 1777.2,866.3 1777.3,867.9 1777.4,867.8 1777.7,871.0 1778.0,872.7 1778.6,874.9 1779.2,874.7 1780.0,877.9 1780.9,878.0 1781.7,879.2 1782.6,881.7 1783.4,880.7 1784.1,884.0 1784.8,885.2 1785.2,886.0 1785.7,889.0 1786.0,889.1 1786.4,891.0 1786.6,892.7 1786.9,895.0 1787.1,895.0 1787.3,897.2 1787.5,898.8 1787.7,900.7 1787.8,903.1 1787.9,903.2 1788.0,906.3 1788.1,906.7 1788.2,908.6 1788.3,909.5 1788.4,911.8 1788.5,914.7 1788.6,915.4 1788.7,917.4 1788.8,917.7 1788.9,919.2 1789.0,920.8 1789.1,923.2 1789.2,924.9 1789.3,926.9 1789.5,926.4 1789.6,930.0 1789.7,932.0 1789.8,932.6 1789.9,932.9 1790.1,935.1 1790.2,935.9 1790.3,938.0 1790.4,941.7 1790.6,942.4 1790.7,944.1 1790.8,946.1 1791.0,948.0 1791.1,948.8 1791.2,950.4 1791.4,952.0 1791.5,953.8 1791.7,955.1 1791.8,956.9 1792.0,957.2 1792.1,960.1 1792.3,961.1 1792.4,963.5 1792.6,963.3 1792.7,965.1 1792.9,966.3 1793.0,969.9 1793.2,971.9 1793.4,972.8 1793.5,973.6 1793.7,976.4 1793.9,977.9 1794.1,978.9 1794.3,979.6 1794.5,981.3 1794.7,983.3 1794.9,984.6 1795.1,986.5 1795.3,988.6 1795.5,991.0 1795.8,990.2 1796.0,993.2 1796.2,993.3 1796.5,995.1 1796.7,998.6 1796.9,999.5 1797.2,1002.1 1797.5,1002.3 1797.7,1002.7 1798.0,1005.3 1798.3,1007.5 1798.6,1010.0 1799.0,1011.7 1799.3,1011.8 1799.6,1013.2 1800.0,1013.9 1800.3,1017.0 1800.7,1017.3 1801.2,1018.7 1801.6,1019.9 1802.1,1021.4 1802.6,1024.8 1803.1,1024.7 1803.7,1028.6 1804.2,1027.6 1804.8,1031.3 1805.4,1030.7 1806.0,1031.9 1806.7,1035.3 1807.5,1035.4 1808.3,1038.1 1809.2,1037.9 1810.2,1038.7 1811.3,1041.9 1812.4,1042.9 1813.7,1044.3 1815.0,1044.9 1816.3,1043.9 1817.7,1046.2 1819.3,1046.8 1820.8,1046.5 1822.4,1048.2 1823.9,1046.3 1825.4,1047.8 1826.9,1046.4 1828.3,1043.6 1829.6,1042.8 1830.9,1043.6 1832.2,1043.1 1833.4,1040.1 1834.6,1039.6 1835.8,1039.7 1836.9,1037.0 1838.0,1037.8 1839.1,1035.6 1840.2,1033.2 1841.2,1032.8 1842.3,1032.2 1843.3,1030.6 1844.2,1030.0 1845.2,1027.2 1846.1,1027.7 1847.0,1025.2 1847.9,1024.6 1848.7,1023.2 1849.6,1021.3 1850.5,1019.9 1851.4,1019.6 1852.3,1018.8 1853.2,1017.0 1854.1,1015.1 1855.0,1013.0 1855.9,1011.0 1856.7,1012.2 1857.6,1010.1 1858.5,1009.1 1859.3,1006.4 1860.1,1005.7 1860.9,1005.4 1861.6,1003.5 1862.3,1001.5 1862.9,999.2 1863.5,998.0 1864.1,997.8 1864.6,994.9 1865.2,994.2 1865.7,992.5 1866.3,991.8 1866.9,990.1 1867.6,987.2 1868.3,985.0 1869.1,984.3 1870.0,983.4 1870.9,982.6 1871.9,981.9 1873.0,981.0 1874.1,977.5 1875.3,978.7 1876.7,977.9 1878.2,977.5 1879.8,976.5 1881.4,975.7 1882.9,977.7 1884.5,978.0 1885.9,978.4 1887.3,979.8 1888.5,979.2 1889.6,979.7 1890.5,982.3 1891.5,984.3 1892.3,983.9 1893.1,986.8 1894.0,988.7 1894.9,988.1 1895.8,990.4 1896.9,991.8 1898.1,992.3 1899.3,992.6 1900.6,993.7 1901.9,996.0 1903.1,997.1 1904.3,997.3 1905.3,997.4 1906.3,1000.8 1907.2,1002.0 1908.0,1001.9 1908.8,1004.2 1909.5,1006.5 1910.2,1007.9 1910.8,1008.4 1911.5,1009.7 1912.0,1011.5 1912.6,1011.9 1913.0,1013.5 1913.4,1015.0 1913.8,1018.0 1914.1,1018.6 1914.5,1020.7 1914.9,1021.8 1915.3,1023.7 1915.7,1024.2 1916.3,1025.4 1916.8,1029.6 1917.3,1029.4 1917.9,1030.1 1918.5,1033.1 1919.1,1035.0 1919.7,1034.7 1920.4,1037.4 1921.1,1038.1 1921.8,1040.0 1922.6,1040.0 1923.4,1041.5 1924.2,1045.5 1925.0,1046.5 1925.9,1046.8 1926.8,1048.4 1927.7,1048.8 1928.6,1051.6 1929.6,1051.9 1930.6,1054.6 1931.5,1055.3 1932.6,1056.7 1933.6,1058.4 1934.6,1057.6 1935.7,1058.2 1936.8,1059.8 1937.9,1060.9 1939.0,1061.8 1940.2,1062.8 1941.4,1065.2 1942.6,1067.1 1943.9,1066.9 1945.3,1069.2 1946.6,1069.9 1948.0,1068.3 1949.4,1070.5 1950.9,1070.7 1952.3,1070.6 1953.8,1073.6 1955.2,1072.3 1956.7,1073.8 1958.1,1074.7 1959.6,1076.2 1961.1,1076.0 1962.6,1075.8 1964.1,1076.5 1965.6,1076.3 1967.1,1079.0 1968.6,1079.6 1970.2,1077.9 1971.7,1077.9 1973.2,1078.9 1974.8,1079.6 1976.3,1081.5 1977.9,1081.9 1979.5,1082.0 1981.0,1080.1 1982.6,1082.4 1984.2,1082.5 1985.8,1082.5 1987.4,1083.7 1988.9,1081.3 1990.5,1081.7 1992.1,1083.6 1993.7,1084.2 1995.3,1083.6 1996.9,1082.6 1998.5,1083.5 2000.1,1084.0 2001.7,1082.3 2003.3,1083.0 2004.9,1083.0 2006.5,1082.7 2008.1,1083.8 2009.7,1083.0 2011.3,1083.3 2012.9,1083.2 2014.5,1084.8 2016.1,1083.0 2017.7,1085.1 2019.3,1083.7 2020.9,1083.4 2022.5,1086.0 2024.1,1084.1 2025.7,1086.2 2027.3,1086.1 2028.8,1086.3 2030.4,1084.3 2032.0,1085.3 2033.6,1084.4 2035.2,1086.9 2036.8,1086.7 2038.4,1086.2 2040.0,1085.7 2041.6,1085.4 2043.2,1086.7 2044.8,1085.7 2046.4,1086.1 2048.0,1084.7 2049.6,1084.9 2051.2,1084.4 2052.8,1086.3 2054.4,1085.8 2056.0,1084.6 2057.6,1086.6 2059.2,1084.9 2060.8,1085.3 2062.4,1084.6 2064.0,1084.9 2065.6,1086.5 2067.2,1085.0 2067.6,1085.5" fill="none" stroke="#ff0000" stroke-width="11.5" stroke-linejoin="round" stroke-linecap="butt"/>
<polyline points="30.0,1350.0 33.1,1350.1 36.3,1350.2 39.5,1350.3 42.6,1350.4 45.8,1350.5 48.9,1350.6 52.0,1350.7 55.2,1350.8 58.3,1350.8 61.5,1350.9 64.6,1351.0 67.8,1351.1 71.0,1351.2 74.1,1351.3 77.3,1351.4 80.5,1351.5 83.6,1351.6 86.7,1351.7 90.1,1351.8 93.4,1351.8 96.7,1351.9 100.0,1351.9 103.3,1351.9 106.7,1352.0 110.0,1352.0 113.3,1352.1 116.7,1352.2 120.0,1352.2 123.3,1352.2 126.7,1352.3 130.0,1352.3 133.3,1352.4 136.6,1352.4 140.0,1352.5 143.3,1352.6 146.6,1352.6 150.0,1352.7 153.3,1352.7 156.6,1352.7 160.0,1352.6 163.3,1352.5 166.6,1352.4 170.0,1352.4 173.3,1352.3 176.6,1352.2 180.0,1352.2 183.3,1352.1 186.6,1352.0 190.0,1352.0 193.3,1351.9 196.6,1351.9 200.0,1351.8 203.3,1351.7 206.7,1351.6 210.2,1351.4 213.6,1351.3 216.9,1351.0 220.0,1350.6 223.6,1349.8 227.0,1348.8 230.3,1347.7 233.7,1346.9 237.0,1346.1 240.6,1344.9 243.7,1343.7 247.1,1342.2 250.5,1340.6 253.7,1338.8 256.6,1336.9 259.3,1334.6 261.6,1332.2 263.7,1329.5 265.7,1326.6 267.3,1323.7 268.7,1320.6 270.0,1317.3 271.3,1314.0 272.6,1310.6 273.8,1307.6 274.9,1304.5 276.0,1301.4 277.1,1298.3 278.2,1295.2 279.4,1292.3 280.7,1289.0 281.9,1285.6 283.2,1282.3 284.6,1279.5 286.3,1277.4 289.6,1275.4 293.1,1275.1 295.4,1276.3 297.7,1278.5 300.0,1280.9 302.2,1283.5 304.5,1286.5 306.8,1289.3 309.1,1291.1 312.5,1291.8 316.0,1291.1 319.0,1289.6 322.1,1287.2 325.1,1284.3 327.0,1282.2 329.0,1279.9 330.9,1277.3 332.8,1274.7 334.7,1272.0 336.6,1269.4 338.5,1266.8 340.4,1264.2 342.3,1261.5 344.2,1258.8 346.1,1256.1 348.0,1253.4 349.9,1250.4 351.7,1247.3 353.6,1244.1 355.5,1241.1 357.4,1238.4 359.4,1236.3 362.3,1234.0 365.4,1232.4 368.6,1231.7 372.4,1232.1 376.4,1233.5 380.0,1235.1 383.5,1237.9 386.9,1239.7 390.0,1238.4 393.2,1235.6 396.0,1232.9 398.3,1230.1 400.6,1228.3 403.8,1229.8 407.4,1232.9 409.6,1235.0 411.8,1237.6 414.1,1239.8 416.6,1240.9 419.4,1240.2 422.4,1238.2 425.4,1236.1 428.0,1235.1 431.0,1235.7 433.7,1237.4 435.7,1239.5 437.6,1242.3 439.6,1245.2 441.7,1247.7 444.7,1250.1 447.8,1252.1 450.9,1253.4 454.2,1253.4 457.7,1253.4 460.2,1254.3 463.0,1255.7 465.8,1257.4 468.7,1259.4 471.4,1261.4 473.7,1263.5 475.9,1266.1 478.0,1268.7 480.2,1271.3 482.5,1273.5 485.1,1275.1 487.9,1275.9 491.0,1276.1 494.2,1275.9 497.4,1275.7 500.5,1275.7 503.4,1276.3 506.3,1277.7 509.1,1279.6 511.7,1281.8 514.3,1283.8 517.1,1285.4 520.5,1286.5 524.1,1287.2 527.6,1287.9 530.9,1288.9 533.8,1290.5 536.5,1292.5 539.3,1294.4 542.3,1295.7 545.4,1296.3 548.7,1296.6 552.1,1296.6 555.4,1296.3 558.3,1295.7 561.5,1294.1 564.4,1292.0 567.4,1290.0 570.1,1288.6 573.0,1287.2 576.0,1286.0 578.9,1285.4 582.7,1285.5 586.5,1286.4 590.3,1287.7 593.0,1288.7 595.7,1289.9 598.5,1291.3 601.3,1292.9 604.0,1294.6 606.7,1296.5 609.4,1298.7 612.1,1301.0 614.8,1303.5 617.4,1305.9 620.0,1308.3 622.4,1310.6 624.6,1312.9 626.8,1315.3 629.0,1317.6 631.3,1319.8 633.7,1322.0 636.2,1324.1 638.8,1326.2 641.4,1328.2 644.1,1330.1 646.9,1331.9 649.7,1333.4 652.6,1334.7 655.7,1335.8 658.8,1336.8 661.9,1337.6 665.0,1338.4 668.0,1339.1 671.2,1339.7 674.5,1340.2 677.6,1340.6 680.8,1341.0 684.0,1341.4 687.2,1341.9 690.3,1342.4 693.5,1342.9 696.7,1343.4 700.0,1343.8 703.1,1344.1 706.2,1344.4 709.4,1344.6 712.6,1344.9 715.8,1345.1 719.0,1345.3 722.2,1345.6 725.4,1345.8 728.5,1346.1 731.7,1346.4 734.9,1346.6 738.1,1346.9 741.2,1347.1 744.4,1347.4 747.6,1347.7 750.8,1347.9 753.9,1348.2 757.1,1348.4 760.3,1348.6 763.5,1348.7 766.6,1348.8 769.8,1348.9 773.0,1349.0 776.2,1349.2 779.3,1349.3 782.5,1349.4 785.7,1349.6 788.9,1349.7 792.1,1349.8 795.2,1349.9 798.4,1350.1 801.6,1350.3 804.8,1350.4 808.0,1350.6 811.2,1350.7 814.3,1350.7 817.8,1350.6 821.2,1350.4 824.6,1350.2 828.0,1350.0 831.4,1349.8 834.9,1349.6 838.3,1349.4 841.7,1349.2 845.2,1349.0 848.6,1348.8 852.0,1348.6 855.5,1348.4 858.9,1348.2 862.3,1348.0 865.8,1347.8 869.2,1347.8 872.7,1347.8 876.2,1347.7 879.6,1347.5 882.9,1346.9 886.1,1346.0 889.2,1344.8 892.2,1343.3 895.2,1341.7 898.1,1340.0 900.7,1338.1 903.3,1336.0 905.8,1333.6 908.3,1331.4 910.8,1329.3 913.3,1327.8 917.2,1326.2 921.0,1325.3 924.8,1324.8 928.0,1324.6 931.2,1324.8 934.3,1325.5 937.5,1327.3 940.5,1329.7 943.8,1331.6 947.5,1332.6 951.4,1333.0 955.2,1333.5 959.1,1334.2 962.9,1334.9 966.7,1335.4 970.5,1335.6 974.3,1335.7 978.1,1335.8 981.8,1335.9 985.5,1335.9 989.5,1336.2 992.7,1336.6 996.1,1337.2 999.6,1337.8 1003.2,1338.4 1006.6,1339.1 1010.1,1339.7 1013.6,1340.3 1017.1,1341.0 1020.5,1341.5 1023.8,1341.9 1027.2,1342.1 1030.6,1342.0 1033.8,1342.0 1037.2,1341.9 1040.5,1342.0 1043.9,1342.1 1047.2,1342.1 1050.5,1341.9 1054.4,1341.2 1058.1,1340.1 1061.9,1339.1 1065.6,1338.1 1069.3,1337.2 1073.3,1336.2 1076.6,1335.1 1080.0,1333.7 1083.6,1332.3 1087.2,1331.3 1090.5,1330.9 1093.9,1331.5 1097.2,1332.9 1100.4,1334.4 1103.8,1335.4 1106.8,1335.6 1109.8,1335.6 1112.9,1335.3 1116.0,1335.0 1119.0,1334.8 1122.2,1334.9 1125.3,1335.0 1128.4,1335.1 1131.5,1334.9 1134.3,1334.3 1137.4,1333.1 1140.4,1331.4 1143.2,1329.3 1145.7,1326.7 1147.6,1323.8 1149.1,1320.1 1150.5,1316.1 1151.9,1312.2 1153.4,1308.6 1155.2,1305.7 1158.1,1302.6 1161.3,1300.2 1164.8,1298.9 1167.6,1298.8 1170.6,1299.4 1173.8,1300.3 1176.9,1301.5 1180.0,1302.7 1183.1,1304.1 1186.1,1305.7 1189.1,1307.5 1192.1,1309.1 1195.2,1310.3 1198.2,1311.0 1201.1,1311.4 1204.2,1311.7 1207.3,1312.0 1210.5,1312.6 1214.1,1313.6 1218.0,1314.9 1221.9,1316.3 1225.9,1317.7 1229.7,1319.1 1233.3,1320.2 1236.5,1321.0 1239.5,1321.7 1242.4,1322.4 1245.4,1323.1 1248.6,1324.0 1252.2,1325.3 1256.2,1326.9 1260.2,1328.6 1264.2,1330.3 1268.0,1331.9 1271.4,1333.1 1275.5,1334.3 1279.2,1335.1 1282.8,1336.0 1286.6,1337.0 1290.3,1338.1 1294.3,1338.9 1297.6,1339.2 1301.1,1339.4 1304.8,1339.5 1308.4,1339.5 1312.1,1339.6 1315.6,1339.8 1319.2,1339.9 1322.7,1340.1 1326.3,1340.2 1329.8,1340.4 1333.4,1340.5 1336.9,1340.7 1340.4,1340.9 1344.0,1341.1 1347.6,1341.1 1350.7,1341.0 1353.9,1340.9 1357.1,1340.7 1360.3,1340.4 1363.5,1340.2 1366.7,1340.0 1369.9,1339.8 1373.1,1339.7 1376.3,1339.5 1379.5,1339.3 1382.7,1339.1 1385.7,1338.9 1389.5,1338.6 1393.1,1338.2 1396.7,1337.9 1400.3,1337.5 1404.1,1337.2 1407.8,1336.9 1411.5,1336.5 1415.0,1336.1 1418.9,1335.4 1422.7,1334.6 1426.5,1333.8 1430.3,1333.0 1434.0,1332.3 1438.0,1331.5 1441.0,1330.8 1444.1,1330.0 1447.2,1329.2 1450.4,1328.6 1453.3,1328.5 1456.2,1329.0 1459.0,1330.0 1461.8,1331.1 1464.8,1332.3 1467.7,1333.4 1470.9,1334.7 1474.2,1336.1 1477.5,1337.3 1480.8,1338.3 1484.0,1338.8 1487.3,1338.8 1490.6,1338.3 1493.8,1337.6 1497.0,1336.7 1500.0,1335.8 1503.4,1334.9 1506.8,1334.1 1509.9,1332.9 1512.6,1331.0 1514.4,1328.9 1515.9,1326.3 1517.2,1323.3 1518.3,1320.2 1519.4,1317.0 1520.5,1314.0 1521.6,1311.1 1522.6,1308.2 1523.5,1305.3 1524.4,1302.3 1525.2,1299.2 1526.0,1296.0 1526.8,1292.0 1527.4,1287.7 1528.0,1283.3 1528.5,1278.9 1529.0,1274.4 1529.5,1270.0 1530.0,1265.8 1530.4,1261.6 1530.8,1257.5 1531.2,1253.3 1531.5,1248.8 1531.9,1244.1 1532.3,1236.8 1532.7,1228.5 1533.0,1219.8 1533.4,1211.5 1533.9,1204.0 1534.6,1198.2 1535.5,1193.6 1536.6,1189.8 1537.6,1188.3 1538.3,1189.7 1538.9,1193.3 1539.4,1198.4 1539.9,1204.6 1540.3,1211.1 1540.7,1217.3 1541.1,1227.7 1541.2,1239.8 1541.3,1252.8 1541.3,1265.7 1541.5,1277.6 1541.9,1287.6 1542.3,1292.5 1542.7,1297.1 1543.2,1301.3 1543.7,1305.2 1544.3,1308.7 1545.0,1312.0 1545.8,1315.7 1546.8,1318.8 1548.2,1322.0 1549.8,1324.8 1551.6,1327.9 1553.8,1330.9 1556.1,1333.6 1558.7,1335.8 1561.3,1337.2 1564.2,1338.2 1567.2,1338.9 1570.3,1339.4 1573.3,1340.0 1576.9,1340.7 1580.4,1341.2 1584.0,1341.6 1587.5,1341.9 1590.9,1342.0 1594.2,1342.0 1597.6,1341.9 1600.9,1341.9 1604.2,1342.0 1607.5,1342.2 1610.8,1342.3 1614.3,1341.9 1617.3,1341.1 1620.5,1340.0 1623.7,1338.6 1627.0,1337.1 1630.3,1335.6 1633.5,1334.2 1636.7,1332.8 1639.9,1331.2 1643.1,1329.7 1646.3,1328.3 1649.5,1327.2 1652.6,1326.6 1655.8,1326.8 1658.9,1327.6 1661.9,1328.6 1665.0,1329.3 1668.0,1329.2 1671.0,1327.8 1674.0,1325.4 1677.0,1322.6 1679.9,1319.9 1682.6,1317.8 1685.2,1317.0 1688.5,1318.3 1691.4,1321.1 1694.8,1323.9 1697.6,1325.6 1700.8,1327.5 1704.1,1329.4 1707.5,1331.2 1710.9,1332.6 1714.0,1333.5 1717.5,1333.8 1720.8,1333.4 1724.1,1332.8 1727.4,1332.3 1730.8,1332.3 1734.3,1332.3 1737.6,1332.1 1740.8,1331.2 1743.3,1329.9 1745.8,1328.3 1748.1,1326.2 1750.3,1323.7 1752.3,1320.8 1754.9,1315.6 1757.1,1309.2 1759.0,1302.0 1760.8,1294.2 1762.3,1286.3 1763.8,1278.6 1765.2,1270.2 1766.3,1261.6 1767.3,1252.9 1768.0,1243.8 1768.8,1234.6 1769.5,1225.0 1770.3,1212.2 1770.8,1197.9 1771.3,1183.3 1771.8,1169.3 1772.5,1157.3 1773.4,1148.3 1774.3,1142.8 1775.4,1138.5 1776.4,1136.8 1777.1,1137.7 1777.9,1140.2 1778.6,1143.7 1779.3,1147.9 1779.9,1152.2 1780.7,1161.2 1781.3,1172.5 1781.7,1185.3 1782.0,1198.9 1782.4,1212.4 1782.9,1225.0 1783.4,1236.9 1783.9,1249.1 1784.3,1261.2 1785.0,1272.9 1786.0,1284.0 1787.5,1294.0 1788.7,1300.9 1790.0,1307.6 1791.4,1314.0 1793.2,1319.8 1795.4,1324.7 1798.3,1328.5 1801.0,1330.5 1804.1,1332.0 1807.5,1333.0 1810.9,1333.7 1814.3,1334.0 1817.4,1334.2 1820.9,1334.0 1824.3,1333.2 1827.5,1332.2 1830.8,1331.3 1834.2,1330.9 1837.6,1330.6 1841.0,1329.9 1844.3,1328.5 1847.6,1325.8 1850.9,1322.1 1854.1,1317.7 1857.3,1313.2 1860.4,1309.0 1863.4,1305.5 1866.5,1302.8 1869.4,1300.7 1872.3,1298.5 1874.9,1295.9 1876.8,1293.5 1878.6,1291.0 1880.2,1288.3 1881.8,1285.4 1883.2,1282.1 1884.5,1278.6 1886.1,1272.2 1887.2,1264.7 1888.0,1256.6 1888.7,1248.2 1889.4,1240.1 1890.3,1232.6 1891.1,1226.5 1891.9,1220.3 1892.7,1214.2 1893.6,1208.6 1894.5,1203.8 1895.5,1200.0 1897.1,1196.0 1898.7,1194.3 1899.6,1195.7 1900.4,1199.0 1901.1,1203.4 1901.8,1208.0 1902.4,1214.4 1902.8,1222.3 1903.1,1230.9 1903.5,1239.8 1904.3,1248.2 1905.6,1255.6 1907.0,1260.7 1908.6,1265.4 1910.4,1269.9 1912.4,1274.2 1914.7,1278.4 1917.1,1282.5 1919.8,1286.6 1922.8,1290.7 1926.0,1294.6 1929.3,1298.4 1932.8,1302.0 1936.3,1305.5 1939.9,1308.8 1943.7,1312.1 1947.7,1315.3 1951.6,1318.2 1955.5,1320.7 1959.2,1322.7 1962.4,1324.0 1965.5,1324.8 1968.5,1325.4 1971.5,1325.9 1974.6,1326.6 1977.7,1327.4 1980.8,1328.2 1983.9,1329.1 1987.0,1329.8 1990.0,1330.4 1993.4,1330.8 1996.7,1331.0 2000.1,1331.2 2003.4,1331.3 2006.8,1331.6 2010.2,1331.8 2013.5,1332.0 2016.8,1332.3 2020.7,1332.9 2024.5,1333.5 2028.2,1334.2 2032.0,1334.9 2035.8,1335.5 2039.7,1336.1 2043.0,1336.4 2046.4,1336.6 2049.8,1336.8 2053.2,1337.1 2056.5,1337.3 2059.9,1337.5 2063.2,1337.8 2066.6,1338.0" fill="none" stroke="#000000" stroke-width="8.6" stroke-linejoin="round" stroke-linecap="butt"/>
<polyline points="1534,26.8 1534,96 1535,104 1535.5,400 1536.5,545 1537.5,555 1538.3,840 1539.3,860 1539.3,1000 1540.3,1012 1541.2,1300 1541.5,1445 1542.5,1456 1542.5,1521" fill="none" stroke="#000" stroke-width="2.6" stroke-dasharray="11,11.13"/>
<line x1="29" y1="1550.5" x2="2070" y2="1550.5" stroke="#000" stroke-width="5"/>
<line x1="30.9" y1="1535" x2="30.9" y2="1553.0" stroke="#000" stroke-width="4"/>
<line x1="176.4" y1="1521" x2="176.4" y2="1553.0" stroke="#000" stroke-width="4"/>
<line x1="321.9" y1="1535" x2="321.9" y2="1553.0" stroke="#000" stroke-width="4"/>
<line x1="467.4" y1="1521" x2="467.4" y2="1553.0" stroke="#000" stroke-width="4"/>
<line x1="612.9" y1="1535" x2="612.9" y2="1553.0" stroke="#000" stroke-width="4"/>
<line x1="758.3" y1="1521" x2="758.3" y2="1553.0" stroke="#000" stroke-width="4"/>
<line x1="903.8" y1="1535" x2="903.8" y2="1553.0" stroke="#000" stroke-width="4"/>
<line x1="1049.3" y1="1521" x2="1049.3" y2="1553.0" stroke="#000" stroke-width="4"/>
<line x1="1194.8" y1="1535" x2="1194.8" y2="1553.0" stroke="#000" stroke-width="4"/>
<line x1="1340.3" y1="1521" x2="1340.3" y2="1553.0" stroke="#000" stroke-width="4"/>
<line x1="1485.8" y1="1535" x2="1485.8" y2="1553.0" stroke="#000" stroke-width="4"/>
<line x1="1631.3" y1="1521" x2="1631.3" y2="1553.0" stroke="#000" stroke-width="4"/>
<line x1="1776.7" y1="1535" x2="1776.7" y2="1553.0" stroke="#000" stroke-width="4"/>
<line x1="1922.2" y1="1521" x2="1922.2" y2="1553.0" stroke="#000" stroke-width="4"/>
<text x="1922.2" y="1637.5" font-family="Liberation Serif, serif" font-size="68" text-anchor="middle">2</text>
<text x="1631.3" y="1637.5" font-family="Liberation Serif, serif" font-size="68" text-anchor="middle">3</text>
<text x="1340.3" y="1637.5" font-family="Liberation Serif, serif" font-size="68" text-anchor="middle">4</text>
<text x="1049.3" y="1637.5" font-family="Liberation Serif, serif" font-size="68" text-anchor="middle">5</text>
<text x="758.3" y="1637.5" font-family="Liberation Serif, serif" font-size="68" text-anchor="middle">6</text>
<text x="467.4" y="1637.5" font-family="Liberation Serif, serif" font-size="68" text-anchor="middle">7</text>
<text x="176.4" y="1637.5" font-family="Liberation Serif, serif" font-size="68" text-anchor="middle">8</text>
<text x="1048.7" y="1722" font-family="Liberation Serif, serif" font-weight="bold" font-size="70.5" text-anchor="middle">Chemical shift (ppm)</text>
<text x="69" y="232.5" font-family="Liberation Serif, serif" font-weight="bold" font-size="71">(a)</text>
<text x="66" y="480.5" font-family="Liberation Serif, serif" font-weight="bold" font-size="71">(b)</text>
<text x="67" y="740.5" font-family="Liberation Serif, serif" font-weight="bold" font-size="71">(c)</text>
<text x="66" y="1018.5" font-family="Liberation Serif, serif" font-weight="bold" font-size="71">(d)</text>
<text x="70" y="1310.5" font-family="Liberation Serif, serif" font-weight="bold" font-size="71">(e)</text>
<text x="1328" y="1267" font-family="Liberation Serif, serif" font-size="70" fill="#ff0000">CH<tspan font-size="47" dy="21">2</tspan><tspan dy="-21">(i)</tspan></text>
</svg>
</body></html>
